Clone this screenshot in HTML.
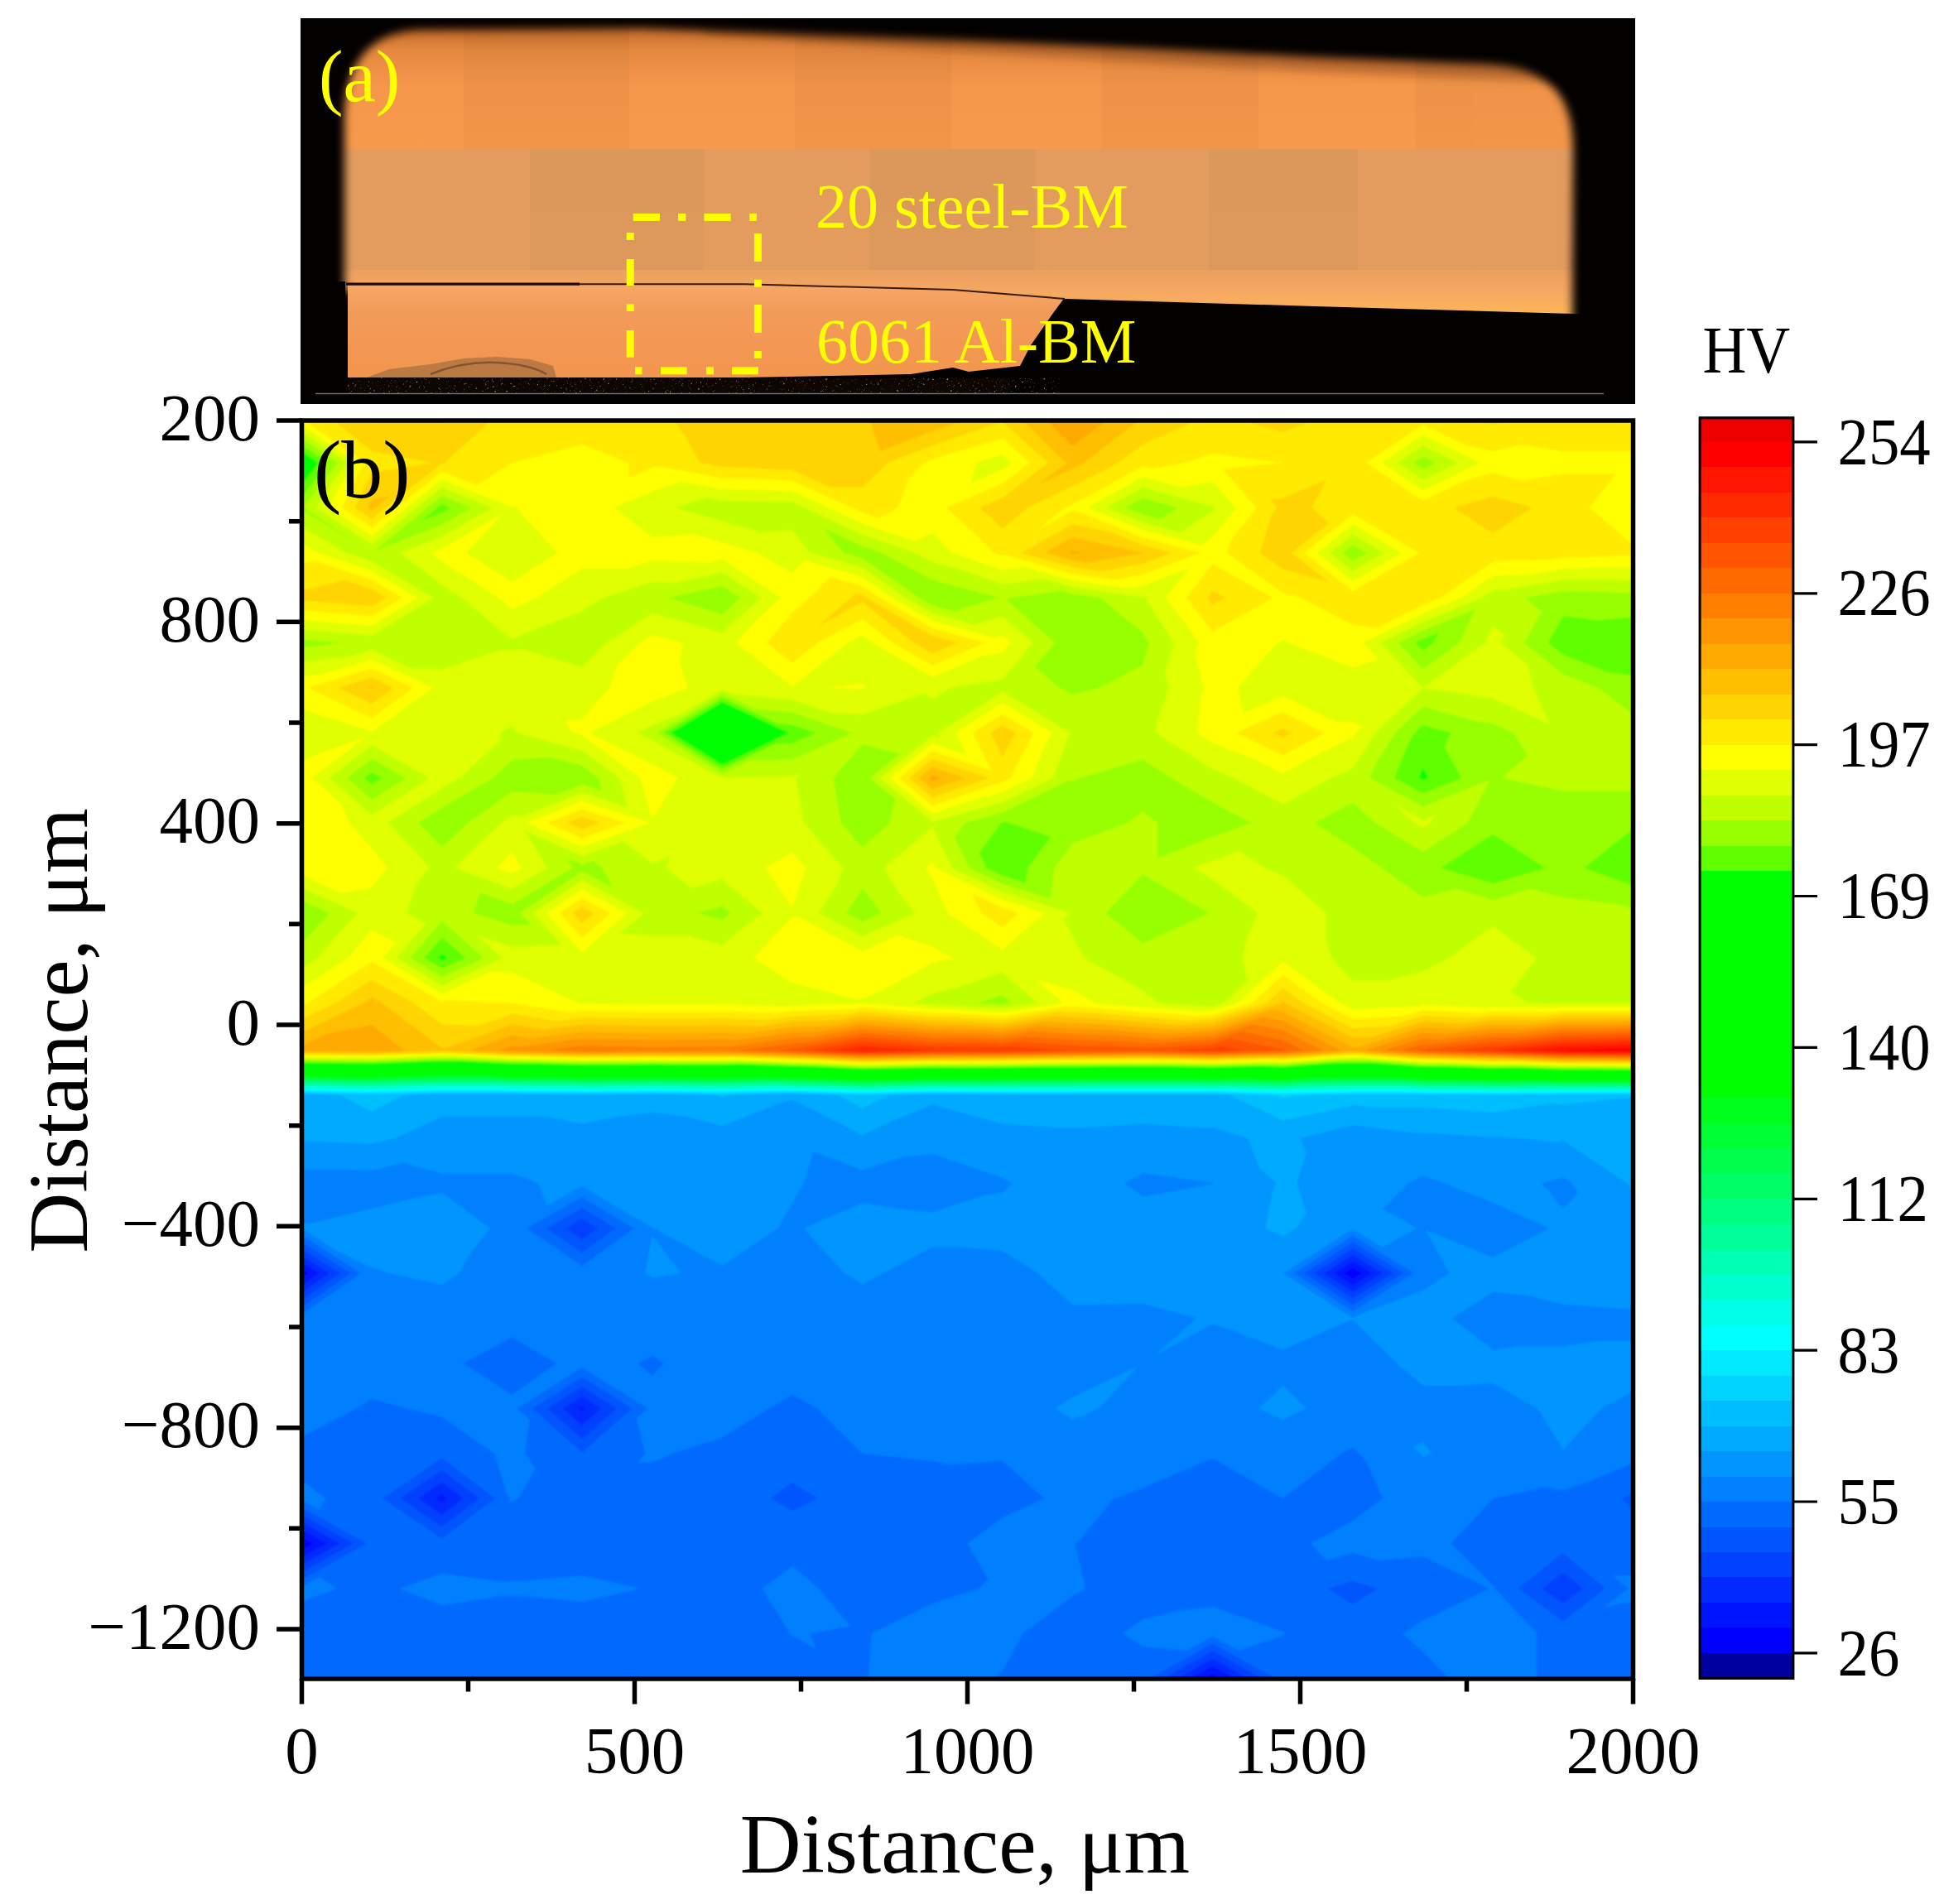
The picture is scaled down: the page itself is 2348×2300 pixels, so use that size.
<!DOCTYPE html>
<html lang="en"><head><meta charset="utf-8"><title>Figure</title><style>html,body{margin:0;padding:0;background:#fff}svg{display:block}</style></head>
<body>
<svg width="2348" height="2300" viewBox="0 0 2348 2300" font-family="'Liberation Serif', serif">
<rect width="2348" height="2300" fill="#fff"/>
<defs><clipPath id="pc"><rect x="364.5" y="508" width="1608" height="1520"/></clipPath><filter id="cb" filterUnits="userSpaceOnUse" x="350" y="490" width="1640" height="1555"><feGaussianBlur stdDeviation="1.3"/></filter><filter id="bl" filterUnits="userSpaceOnUse" x="363" y="0" width="1640" height="500"><feGaussianBlur stdDeviation="5.5"/></filter><filter id="sp" x="0" y="0" width="100%" height="100%"><feTurbulence type="fractalNoise" baseFrequency="0.35" numOctaves="2" seed="7"/><feColorMatrix type="matrix" values="0 0 0 0 0.5  0 0 0 0 0.3  0 0 0 0 0.15  5 0 0 0 -3.3"/></filter><clipPath id="ph"><rect x="363" y="22" width="1612" height="466"/></clipPath><mask id="ms" maskUnits="userSpaceOnUse" x="363" y="0" width="1640" height="500"><path d="M416,352 L416,150 C416,85 438,40 505,36 L776,34 L1151,48 L1378,58 L1587,69 L1795,77.6 C1868,81 1900,112 1900,180 L1899,390 L1587,380 L1287,370 L1151,360 L900,352 Z" fill="#fff" filter="url(#bl)"/></mask><linearGradient id="gs" gradientUnits="userSpaceOnUse" x1="0" y1="30" x2="0" y2="180"><stop offset="0" stop-color="#b86424"/><stop offset="0.2" stop-color="#e5883f"/><stop offset="0.5" stop-color="#f5974b"/><stop offset="1" stop-color="#f89a4c"/></linearGradient><linearGradient id="ga" gradientUnits="userSpaceOnUse" x1="0" y1="344" x2="0" y2="456"><stop offset="0" stop-color="#f6a768"/><stop offset="0.3" stop-color="#f29b59"/><stop offset="1" stop-color="#f2954e"/></linearGradient><linearGradient id="gl" gradientUnits="userSpaceOnUse" x1="0" y1="326" x2="0" y2="380"><stop offset="0" stop-color="#ec9f5f"/><stop offset="0.6" stop-color="#f7ab62"/><stop offset="1" stop-color="#ffb655"/></linearGradient></defs>
<g clip-path="url(#ph)">
<rect x="363" y="22" width="1612" height="466" fill="#030100"/>
<g mask="url(#ms)">
<rect x="363" y="22" width="1612" height="160" fill="url(#gs)"/>
<path d="M850,30 L1151,30 L1378,40 L1587,51 L1795,60 L1920,66 L1920,100 L1795,95 L1587,86 L1378,75 L1151,62 L850,40 Z" fill="#6a3008" opacity="0.4" filter="url(#bl)"/>
<rect x="363" y="180" width="1612" height="147" fill="#e39c5e"/>
<rect x="363" y="326" width="1612" height="70" fill="url(#gl)"/>
<g fill="#000" opacity="0.022"><rect x="560" y="22" width="200" height="158"/><rect x="960" y="22" width="190" height="158"/><rect x="1330" y="22" width="190" height="158"/><rect x="1710" y="22" width="200" height="158"/><rect x="640" y="180" width="210" height="146"/><rect x="1050" y="180" width="200" height="146"/><rect x="1460" y="180" width="180" height="146"/></g>
</g>
<path d="M1287,361 L1587,370 L1899,379 L1975,379 L1975,488 L1200,488 L1232,443 L1245,418 L1270,382 L1284,362 Z" fill="#030100"/>
<path d="M420,344 L900,344 L1151,351 L1284,361 L1270,381 L1245,417 L1232,442 L1170,449 L1151,444 L1100,452 L900,456 L420,456 Z" fill="url(#ga)"/>
<path d="M363,340 H417 V470 H363 Z" fill="#030100"/>
<path d="M443,456 L470,446 L520,440 L560,433 L600,431 L640,434 L668,442 L672,456 Z" fill="#a8703f" opacity="0.75"/>
<path d="M520,452 Q560,436 600,438 Q640,440 660,452" stroke="#6b4526" stroke-width="2.5" fill="none" opacity="0.7"/>
<rect x="420" y="457" width="800" height="17" fill="#0d0603"/>
<rect x="420" y="456" width="860" height="19" filter="url(#sp)"/>
<path d="M418,343.2 H700" stroke="#1e0c04" stroke-width="3.2" fill="none"/>
<path d="M700,343.2 H900 L1151,350 L1286,361" stroke="#3a1c0a" stroke-width="2" fill="none"/>
<path d="M381,475.5 H1937" stroke="#6e6e6e" stroke-width="1.3"/>
</g>
<g fill="#ffff00"><rect x="764.7" y="257.9" width="32.3" height="9"/><rect x="819.0" y="257.9" width="9.4" height="9"/><rect x="850.5" y="257.9" width="32.1" height="9"/><rect x="905.3" y="257.9" width="8.7" height="9"/><rect x="767.0" y="443.3" width="8.5" height="9"/><rect x="798.0" y="443.3" width="31.7" height="9"/><rect x="853.0" y="443.3" width="9.0" height="9"/><rect x="884.0" y="443.3" width="32.0" height="9"/><rect x="756.7" y="281.0" width="9" height="9.0"/><rect x="756.7" y="313.0" width="9" height="32.0"/><rect x="756.7" y="367.4" width="9" height="8.6"/><rect x="756.7" y="399.0" width="9" height="32.7"/><rect x="910.9" y="282.0" width="9" height="34.0"/><rect x="910.9" y="337.8" width="9" height="8.8"/><rect x="910.9" y="368.0" width="9" height="34.0"/><rect x="910.9" y="424.0" width="9" height="9.0"/></g>
<g fill="#ffff00" font-size="76"><text x="985" y="274.5">20 steel-BM</text><text x="986" y="438">6061 Al-BM</text><text x="385" y="122.3" font-size="88.5">(a)</text></g>
<g clip-path="url(#pc)"><g fill-rule="evenodd" filter="url(#cb)">
<rect x="360" y="500" width="1620" height="1535" fill="#0000ff"/>
<path fill="#0015ff" d="M1474.4,2027.7 1464.7,2022.4 1455.0,2027.7 1380.1,2027.7 1295.4,2027.7 1210.8,2027.7 1126.2,2027.7 1041.6,2027.7 956.9,2027.7 872.3,2027.7 787.7,2027.7 703.0,2027.7 618.4,2027.7 533.8,2027.7 449.1,2027.7 364.5,2027.7 364.5,1973.3 364.5,1918.9 364.5,1871.7 377.5,1864.5 364.5,1857.3 364.5,1810.1 364.5,1755.7 364.5,1701.3 364.5,1646.9 364.5,1592.5 364.5,1543.3 372.0,1538.1 364.5,1533.4 364.5,1483.7 364.5,1429.3 364.5,1374.9 364.5,1323.0 364.5,1269.1 364.5,1211.7 364.5,1157.3 364.5,1102.9 364.5,1048.5 364.5,994.1 364.5,939.7 364.5,885.3 364.5,830.9 364.5,776.5 364.5,722.1 364.5,667.7 364.5,613.3 364.5,558.9 364.5,504.5 449.1,504.5 533.8,504.5 618.4,504.5 703.0,504.5 787.7,504.5 872.3,504.5 956.9,504.5 1041.6,504.5 1126.2,504.5 1210.8,504.5 1295.4,504.5 1380.1,504.5 1464.7,504.5 1549.3,504.5 1634.0,504.5 1718.6,504.5 1803.2,504.5 1887.9,504.5 1972.5,504.5 1972.5,558.9 1972.5,613.3 1972.5,667.7 1972.5,722.1 1972.5,776.5 1972.5,830.9 1972.5,885.3 1972.5,939.7 1972.5,994.1 1972.5,1048.5 1972.5,1102.9 1972.5,1157.3 1972.5,1211.7 1972.5,1269.1 1972.5,1323.0 1972.5,1374.9 1972.5,1429.3 1972.5,1483.7 1972.5,1538.1 1972.5,1592.5 1972.5,1646.9 1972.5,1701.3 1972.5,1755.7 1972.5,1810.1 1972.5,1864.5 1972.5,1918.9 1972.5,1973.3 1972.5,2027.7 1887.9,2027.7 1803.2,2027.7 1718.6,2027.7 1634.0,2027.7 1549.3,2027.7ZM1624.2,1538.1 1634.0,1544.4 1644.0,1538.1 1634.0,1531.9Z"/>
<path fill="#002aff" d="M1491.2,2027.7 1464.7,2013.1 1438.3,2027.7 1380.1,2027.7 1295.4,2027.7 1210.8,2027.7 1126.2,2027.7 1041.6,2027.7 956.9,2027.7 872.3,2027.7 787.7,2027.7 703.0,2027.7 618.4,2027.7 533.8,2027.7 449.1,2027.7 364.5,2027.7 364.5,1973.3 364.5,1918.9 364.5,1880.7 393.9,1864.5 364.5,1848.3 364.5,1810.1 364.5,1755.7 364.5,1701.3 364.5,1646.9 364.5,1592.5 364.5,1552.2 385.0,1538.1 364.5,1525.1 364.5,1483.7 364.5,1429.3 364.5,1374.9 364.5,1323.0 364.5,1269.1 364.5,1211.7 364.5,1157.3 364.5,1102.9 364.5,1048.5 364.5,994.1 364.5,939.7 364.5,885.3 364.5,830.9 364.5,776.5 364.5,722.1 364.5,667.7 364.5,613.3 364.5,558.9 364.5,504.5 449.1,504.5 533.8,504.5 618.4,504.5 703.0,504.5 787.7,504.5 872.3,504.5 956.9,504.5 1041.6,504.5 1126.2,504.5 1210.8,504.5 1295.4,504.5 1380.1,504.5 1464.7,504.5 1549.3,504.5 1634.0,504.5 1718.6,504.5 1803.2,504.5 1887.9,504.5 1972.5,504.5 1972.5,558.9 1972.5,613.3 1972.5,667.7 1972.5,722.1 1972.5,776.5 1972.5,830.9 1972.5,885.3 1972.5,939.7 1972.5,994.1 1972.5,1048.5 1972.5,1102.9 1972.5,1157.3 1972.5,1211.7 1972.5,1269.1 1972.5,1323.0 1972.5,1374.9 1972.5,1429.3 1972.5,1483.7 1972.5,1538.1 1972.5,1592.5 1972.5,1646.9 1972.5,1701.3 1972.5,1755.7 1972.5,1810.1 1972.5,1864.5 1972.5,1918.9 1972.5,1973.3 1972.5,2027.7 1887.9,2027.7 1803.2,2027.7 1718.6,2027.7 1634.0,2027.7 1549.3,2027.7ZM1611.8,1538.1 1634.0,1552.4 1656.8,1538.1 1634.0,1524.0ZM699.1,1701.3 703.0,1704.8 707.0,1701.3 703.0,1698.8ZM526.9,1810.1 533.8,1814.8 539.9,1810.1 533.8,1805.4Z"/>
<path fill="#0040ff" d="M1507.9,2027.7 1464.7,2003.9 1421.5,2027.7 1380.1,2027.7 1295.4,2027.7 1210.8,2027.7 1126.2,2027.7 1041.6,2027.7 956.9,2027.7 872.3,2027.7 787.7,2027.7 703.0,2027.7 618.4,2027.7 533.8,2027.7 449.1,2027.7 364.5,2027.7 364.5,1973.3 364.5,1918.9 364.5,1889.8 410.3,1864.5 364.5,1839.2 364.5,1810.1 364.5,1755.7 364.5,1701.3 364.5,1646.9 364.5,1592.5 364.5,1561.1 397.9,1538.1 364.5,1516.9 364.5,1483.7 364.5,1429.3 364.5,1374.9 364.5,1323.0 364.5,1269.1 364.5,1211.7 364.5,1157.3 364.5,1102.9 364.5,1048.5 364.5,994.1 364.5,939.7 364.5,885.3 364.5,830.9 364.5,776.5 364.5,722.1 364.5,667.7 364.5,613.3 364.5,558.9 364.5,504.5 449.1,504.5 533.8,504.5 618.4,504.5 703.0,504.5 787.7,504.5 872.3,504.5 956.9,504.5 1041.6,504.5 1126.2,504.5 1210.8,504.5 1295.4,504.5 1380.1,504.5 1464.7,504.5 1549.3,504.5 1634.0,504.5 1718.6,504.5 1803.2,504.5 1887.9,504.5 1972.5,504.5 1972.5,558.9 1972.5,613.3 1972.5,667.7 1972.5,722.1 1972.5,776.5 1972.5,830.9 1972.5,885.3 1972.5,939.7 1972.5,994.1 1972.5,1048.5 1972.5,1102.9 1972.5,1157.3 1972.5,1211.7 1972.5,1269.1 1972.5,1323.0 1972.5,1374.9 1972.5,1429.3 1972.5,1483.7 1972.5,1538.1 1972.5,1592.5 1972.5,1646.9 1972.5,1701.3 1972.5,1755.7 1972.5,1810.1 1972.5,1864.5 1972.5,1918.9 1972.5,1973.3 1972.5,2027.7 1887.9,2027.7 1803.2,2027.7 1718.6,2027.7 1634.0,2027.7 1549.3,2027.7ZM1599.5,1538.1 1634.0,1560.4 1669.6,1538.1 1634.0,1516.1ZM680.4,1701.3 703.0,1721.5 725.9,1701.3 703.0,1687.1ZM505.2,1810.1 533.8,1829.5 559.3,1810.1 533.8,1790.7Z"/>
<path fill="#0055ff" d="M1524.7,2027.7 1464.7,1994.7 1404.8,2027.7 1380.1,2027.7 1295.4,2027.7 1210.8,2027.7 1126.2,2027.7 1041.6,2027.7 956.9,2027.7 872.3,2027.7 787.7,2027.7 703.0,2027.7 618.4,2027.7 533.8,2027.7 449.1,2027.7 364.5,2027.7 364.5,1973.3 364.5,1918.9 364.5,1898.9 426.7,1864.5 364.5,1830.1 364.5,1810.1 364.5,1755.7 364.5,1701.3 364.5,1646.9 364.5,1592.5 364.5,1570.0 410.9,1538.1 364.5,1508.7 364.5,1483.7 364.5,1429.3 364.5,1374.9 364.5,1323.0 364.5,1269.1 364.5,1211.7 364.5,1157.3 364.5,1102.9 364.5,1048.5 364.5,994.1 364.5,939.7 364.5,885.3 364.5,830.9 364.5,776.5 364.5,722.1 364.5,667.7 364.5,613.3 364.5,558.9 364.5,504.5 449.1,504.5 533.8,504.5 618.4,504.5 703.0,504.5 787.7,504.5 872.3,504.5 956.9,504.5 1041.6,504.5 1126.2,504.5 1210.8,504.5 1295.4,504.5 1380.1,504.5 1464.7,504.5 1549.3,504.5 1634.0,504.5 1718.6,504.5 1803.2,504.5 1887.9,504.5 1972.5,504.5 1972.5,558.9 1972.5,613.3 1972.5,667.7 1972.5,722.1 1972.5,776.5 1972.5,830.9 1972.5,885.3 1972.5,939.7 1972.5,994.1 1972.5,1048.5 1972.5,1102.9 1972.5,1157.3 1972.5,1211.7 1972.5,1269.1 1972.5,1323.0 1972.5,1374.9 1972.5,1429.3 1972.5,1483.7 1972.5,1538.1 1972.5,1592.5 1972.5,1646.9 1972.5,1701.3 1972.5,1755.7 1972.5,1810.1 1972.5,1864.5 1972.5,1918.9 1972.5,1973.3 1972.5,2027.7 1887.9,2027.7 1803.2,2027.7 1718.6,2027.7 1634.0,2027.7 1549.3,2027.7ZM683.1,1483.7 703.0,1497.3 721.6,1483.7 703.0,1472.5ZM1587.1,1538.1 1634.0,1568.4 1682.3,1538.1 1634.0,1508.2ZM661.7,1701.3 703.0,1738.2 744.7,1701.3 703.0,1675.3ZM483.4,1810.1 533.8,1844.3 578.7,1810.1 533.8,1775.9ZM1863.0,1918.9 1887.9,1937.0 1911.2,1918.9 1887.9,1899.1Z"/>
<path fill="#006aff" d="M1972.5,1804.3 1958.4,1810.1 1972.5,1823.7 1972.5,1864.5 1972.5,1918.9 1972.5,1973.3 1972.5,2027.7 1887.9,2027.7 1803.2,2027.7 1718.6,2027.7 1634.0,2027.7 1549.3,2027.7 1541.4,2027.7 1464.7,1985.4 1388.0,2027.7 1380.1,2027.7 1295.4,2027.7 1210.8,2027.7 1126.2,2027.7 1041.6,2027.7 956.9,2027.7 872.3,2027.7 787.7,2027.7 703.0,2027.7 618.4,2027.7 533.8,2027.7 449.1,2027.7 364.5,2027.7 364.5,1973.3 364.5,1918.9 364.5,1907.9 443.1,1864.5 364.5,1821.1 364.5,1810.1 364.5,1755.7 364.5,1701.3 364.5,1646.9 364.5,1592.5 364.5,1578.9 423.9,1538.1 364.5,1500.5 364.5,1483.7 364.5,1429.3 364.5,1374.9 364.5,1323.0 364.5,1269.1 364.5,1211.7 364.5,1157.3 364.5,1102.9 364.5,1048.5 364.5,994.1 364.5,939.7 364.5,885.3 364.5,830.9 364.5,776.5 364.5,722.1 364.5,667.7 364.5,613.3 364.5,558.9 364.5,504.5 449.1,504.5 533.8,504.5 618.4,504.5 703.0,504.5 787.7,504.5 872.3,504.5 956.9,504.5 1041.6,504.5 1126.2,504.5 1210.8,504.5 1295.4,504.5 1380.1,504.5 1464.7,504.5 1549.3,504.5 1634.0,504.5 1718.6,504.5 1803.2,504.5 1887.9,504.5 1972.5,504.5 1972.5,558.9 1972.5,613.3 1972.5,667.7 1972.5,722.1 1972.5,776.5 1972.5,830.9 1972.5,885.3 1972.5,939.7 1972.5,994.1 1972.5,1048.5 1972.5,1102.9 1972.5,1157.3 1972.5,1211.7 1972.5,1269.1 1972.5,1323.0 1972.5,1374.9 1972.5,1429.3 1972.5,1483.7 1972.5,1538.1 1972.5,1592.5 1972.5,1646.9 1972.5,1701.3 1972.5,1755.7ZM659.5,1483.7 703.0,1513.4 743.7,1483.7 703.0,1459.3ZM1574.7,1538.1 1634.0,1576.4 1695.1,1538.1 1634.0,1500.4ZM643.0,1701.3 703.0,1754.8 763.6,1701.3 703.0,1663.6ZM461.7,1810.1 533.8,1859.1 598.2,1810.1 533.8,1761.1ZM930.5,1810.1 956.9,1825.2 987.1,1810.1 956.9,1790.7ZM1603.7,1918.9 1634.0,1938.3 1664.2,1918.9 1634.0,1909.8ZM1833.4,1918.9 1887.9,1958.6 1938.9,1918.9 1887.9,1875.6Z"/>
<path fill="#0080ff" d="M1972.5,1767.4 1921.7,1788.3 1887.9,1800.6 1866.7,1796.5 1803.2,1810.1 1752.5,1864.5 1803.2,1915.5 1806.5,1916.8 1803.9,1918.9 1808.5,1922.3 1856.1,1973.3 1856.1,1993.7 1856.1,2027.7 1803.2,2027.7 1750.3,2027.7 1718.6,1995.1 1694.4,1973.3 1718.6,1957.8 1800.0,1918.9 1718.6,1880.0 1665.7,1884.9 1634.0,1875.4 1602.2,1884.9 1583.2,1864.5 1634.0,1837.3 1670.2,1810.1 1650.9,1766.6 1641.7,1755.7 1634.0,1748.5 1619.9,1755.7 1549.3,1810.1 1464.7,1761.5 1439.3,1772.0 1380.1,1797.4 1345.2,1810.1 1306.0,1857.7 1298.7,1864.5 1299.1,1866.9 1311.1,1918.9 1295.4,1928.0 1235.0,1973.3 1210.8,2018.6 1203.1,2027.7 1126.2,2027.7 1049.2,2027.7 1049.2,2022.8 1052.6,1973.3 1126.2,1937.0 1182.6,1918.9 1193.9,1908.0 1168.5,1864.5 1210.8,1833.4 1261.6,1810.1 1210.8,1764.8 1147.3,1769.3 1126.2,1764.8 1041.6,1755.7 987.0,1701.3 956.9,1684.7 928.7,1701.3 872.3,1736.5 812.5,1755.7 787.7,1766.6 770.7,1766.6 779.2,1755.7 768.7,1713.5 782.5,1701.3 703.0,1651.8 624.3,1701.3 639.6,1714.9 633.8,1755.7 646.6,1773.8 626.1,1810.1 618.4,1814.1 613.1,1813.5 617.6,1810.1 613.1,1806.7 597.2,1755.7 533.8,1711.6 491.4,1701.3 449.1,1689.4 430.6,1701.3 364.5,1735.3 364.5,1701.3 364.5,1646.9 364.5,1592.5 364.5,1587.8 436.8,1538.1 364.5,1492.3 364.5,1483.7 364.5,1429.3 364.5,1374.9 364.5,1323.0 364.5,1269.1 364.5,1211.7 364.5,1157.3 364.5,1102.9 364.5,1048.5 364.5,994.1 364.5,939.7 364.5,885.3 364.5,830.9 364.5,776.5 364.5,722.1 364.5,667.7 364.5,613.3 364.5,558.9 364.5,504.5 449.1,504.5 533.8,504.5 618.4,504.5 703.0,504.5 787.7,504.5 872.3,504.5 956.9,504.5 1041.6,504.5 1126.2,504.5 1210.8,504.5 1295.4,504.5 1380.1,504.5 1464.7,504.5 1549.3,504.5 1634.0,504.5 1718.6,504.5 1803.2,504.5 1887.9,504.5 1972.5,504.5 1972.5,558.9 1972.5,613.3 1972.5,667.7 1972.5,722.1 1972.5,776.5 1972.5,830.9 1972.5,885.3 1972.5,939.7 1972.5,994.1 1972.5,1048.5 1972.5,1102.9 1972.5,1157.3 1972.5,1211.7 1972.5,1269.1 1972.5,1323.0 1972.5,1374.9 1972.5,1429.3 1972.5,1483.7 1972.5,1538.1 1972.5,1592.5 1972.5,1646.9 1972.5,1701.3 1972.5,1755.7ZM1972.5,1934.4 1938.6,1940.7 1966.7,1918.9 1948.3,1903.4 1972.5,1903.4 1972.5,1918.9ZM364.5,1917.0 385.7,1905.3 406.8,1918.9 364.5,1934.4 364.5,1918.9ZM364.5,1788.3 392.7,1810.1 385.7,1823.7 364.5,1812.0 364.5,1810.1ZM635.8,1483.7 703.0,1529.6 765.8,1483.7 703.0,1446.0ZM1562.4,1538.1 1634.0,1584.4 1707.9,1538.1 1634.0,1492.5ZM559.2,1646.9 618.4,1685.0 672.3,1646.9 618.4,1615.2ZM770.7,1646.9 787.7,1662.0 801.8,1646.9 787.7,1637.8ZM533.8,1900.8 606.3,1911.1 618.4,1909.8 632.5,1909.8 703.0,1903.4 773.6,1918.9 703.0,1934.4 632.5,1928.0 618.4,1928.0 604.3,1928.0 533.8,1939.3 483.0,1918.9ZM956.9,1891.7 988.7,1918.9 1027.4,1964.2 978.1,1973.3 985.1,1991.4 956.9,1975.4 953.7,1973.3 952.9,1970.7 920.7,1918.9ZM1380.1,1956.3 1422.4,1946.1 1464.7,1940.7 1541.6,1968.4 1549.3,1971.2 1552.6,1973.3 1549.3,1975.4 1496.4,1993.7 1464.7,1976.2 1433.0,1993.7 1380.1,1988.8 1355.9,1973.3Z"/>
<path fill="#0095ff" d="M1972.5,1580.8 1954.4,1580.8 1887.9,1575.5 1845.6,1565.3 1803.2,1560.8 1753.9,1592.5 1803.2,1630.6 1835.0,1626.5 1887.9,1626.5 1930.2,1619.7 1972.5,1619.7 1972.5,1646.9 1972.5,1680.9 1934.4,1701.3 1887.9,1751.2 1856.8,1701.3 1803.2,1670.9 1760.9,1674.1 1718.6,1674.1 1686.9,1646.9 1634.0,1594.6 1628.7,1595.9 1549.3,1630.6 1485.9,1606.1 1464.7,1599.3 1394.2,1637.8 1445.5,1592.5 1380.1,1574.7 1320.8,1576.2 1295.4,1576.2 1253.1,1538.1 1210.8,1510.9 1161.4,1506.4 1126.2,1506.4 1066.9,1538.1 1041.6,1551.7 1020.4,1538.1 988.7,1504.1 971.0,1483.7 1041.6,1453.1 1090.9,1461.0 1126.2,1464.3 1188.4,1443.7 1210.8,1440.4 1222.7,1429.3 1210.8,1422.7 1188.4,1414.9 1126.2,1394.3 1090.9,1397.6 1041.6,1413.4 982.3,1391.2 971.0,1429.3 956.9,1453.1 939.6,1483.7 872.3,1529.0 790.0,1483.7 787.7,1482.5 784.4,1481.6 703.0,1432.8 660.7,1456.5 650.1,1429.3 618.4,1417.6 551.9,1417.6 533.8,1417.6 487.2,1404.8 449.1,1414.0 423.7,1413.0 364.5,1413.0 364.5,1374.9 364.5,1323.0 364.5,1269.1 364.5,1211.7 364.5,1157.3 364.5,1102.9 364.5,1048.5 364.5,994.1 364.5,939.7 364.5,885.3 364.5,830.9 364.5,776.5 364.5,722.1 364.5,667.7 364.5,613.3 364.5,558.9 364.5,504.5 449.1,504.5 533.8,504.5 618.4,504.5 703.0,504.5 787.7,504.5 872.3,504.5 956.9,504.5 1041.6,504.5 1126.2,504.5 1210.8,504.5 1295.4,504.5 1380.1,504.5 1464.7,504.5 1549.3,504.5 1634.0,504.5 1718.6,504.5 1803.2,504.5 1887.9,504.5 1972.5,504.5 1972.5,558.9 1972.5,613.3 1972.5,667.7 1972.5,722.1 1972.5,776.5 1972.5,830.9 1972.5,885.3 1972.5,939.7 1972.5,994.1 1972.5,1048.5 1972.5,1102.9 1972.5,1157.3 1972.5,1211.7 1972.5,1269.1 1972.5,1323.0 1972.5,1374.9 1972.5,1429.3 1972.5,1483.7 1972.5,1538.1ZM364.5,1478.3 373.0,1478.3 449.1,1459.9 508.4,1445.6 533.8,1441.0 591.9,1483.7 565.5,1517.7 554.9,1538.1 533.8,1551.7 470.3,1538.1 449.1,1531.3 406.8,1510.9 364.5,1484.1 364.5,1483.7ZM1358.3,1429.3 1380.1,1445.4 1462.9,1430.5 1464.7,1430.8 1465.5,1429.3 1464.7,1428.6 1463.4,1428.5 1380.1,1417.0ZM1700.5,1429.3 1669.8,1460.7 1711.6,1483.7 1669.8,1506.7 1634.0,1484.6 1550.0,1538.1 1634.0,1592.4 1639.3,1589.1 1718.6,1558.5 1750.3,1538.1 1721.9,1485.8 1803.2,1518.7 1871.2,1483.7 1803.2,1453.1 1744.0,1429.3 1718.6,1420.2ZM1862.5,1429.3 1887.9,1460.7 1906.0,1441.0 1898.4,1429.3 1887.9,1422.3ZM787.7,1492.8 822.9,1538.1 787.7,1543.5 779.2,1538.1ZM1295.4,1687.7 1374.8,1650.3 1327.2,1701.3 1295.4,1714.9 1274.3,1701.3ZM1549.3,1674.1 1578.2,1701.3 1549.3,1714.9 1520.5,1701.3ZM1706.2,1747.7 1718.6,1742.1 1729.2,1755.7 1718.6,1760.2 1714.8,1755.7Z"/>
<path fill="#00aaff" d="M1972.5,1440.2 1965.4,1429.3 1887.9,1377.7 1880.2,1379.8 1837.1,1374.9 1806.0,1373.2 1803.2,1373.6 1800.9,1373.5 1718.6,1368.4 1708.0,1368.4 1634.0,1359.3 1570.5,1374.9 1577.6,1393.0 1566.3,1429.3 1577.6,1465.6 1565.6,1483.7 1549.3,1493.6 1528.2,1483.7 1537.3,1437.1 1541.4,1429.3 1521.1,1411.2 1507.0,1374.9 1464.7,1361.9 1443.6,1361.9 1380.1,1357.6 1316.6,1361.9 1295.4,1361.9 1274.3,1361.9 1210.8,1357.6 1160.0,1343.8 1126.2,1334.5 1069.8,1357.6 1041.6,1371.4 999.2,1349.0 956.9,1328.8 940.0,1333.4 872.3,1360.1 830.0,1349.0 787.7,1343.8 745.3,1349.0 703.0,1357.6 660.7,1349.0 618.4,1349.0 576.1,1349.0 533.8,1349.0 477.3,1374.9 449.1,1381.7 370.1,1378.5 364.5,1378.5 364.5,1374.9 364.5,1323.0 364.5,1269.1 364.5,1211.7 364.5,1157.3 364.5,1102.9 364.5,1048.5 364.5,994.1 364.5,939.7 364.5,885.3 364.5,830.9 364.5,776.5 364.5,722.1 364.5,667.7 364.5,613.3 364.5,558.9 364.5,504.5 449.1,504.5 533.8,504.5 618.4,504.5 703.0,504.5 787.7,504.5 872.3,504.5 956.9,504.5 1041.6,504.5 1126.2,504.5 1210.8,504.5 1295.4,504.5 1380.1,504.5 1464.7,504.5 1549.3,504.5 1634.0,504.5 1718.6,504.5 1803.2,504.5 1887.9,504.5 1972.5,504.5 1972.5,558.9 1972.5,613.3 1972.5,667.7 1972.5,722.1 1972.5,776.5 1972.5,830.9 1972.5,885.3 1972.5,939.7 1972.5,994.1 1972.5,1048.5 1972.5,1102.9 1972.5,1157.3 1972.5,1211.7 1972.5,1269.1 1972.5,1323.0 1972.5,1374.9 1972.5,1429.3Z"/>
<path fill="#00bfff" d="M1972.5,1325.9 1968.0,1325.8 1887.9,1334.4 1870.8,1333.5 1803.2,1343.6 1745.1,1339.2 1718.6,1337.6 1657.8,1337.6 1634.0,1334.7 1602.2,1342.5 1549.3,1353.3 1485.9,1323.0 1465.6,1322.4 1464.7,1322.4 1463.8,1322.4 1380.1,1322.4 1296.3,1322.4 1295.4,1322.4 1211.7,1322.4 1210.8,1322.5 1210.0,1322.5 1126.2,1321.8 1073.3,1323.0 1041.6,1338.6 1012.3,1323.0 956.9,1321.6 954.7,1321.6 877.0,1323.0 872.3,1324.9 865.2,1323.0 787.7,1322.1 703.4,1322.7 703.0,1322.7 702.6,1322.7 618.4,1322.0 616.7,1321.9 533.8,1321.9 487.2,1323.0 449.1,1342.5 411.0,1323.0 364.5,1322.0 364.5,1269.1 364.5,1211.7 364.5,1157.3 364.5,1102.9 364.5,1048.5 364.5,994.1 364.5,939.7 364.5,885.3 364.5,830.9 364.5,776.5 364.5,722.1 364.5,667.7 364.5,613.3 364.5,558.9 364.5,504.5 449.1,504.5 533.8,504.5 618.4,504.5 703.0,504.5 787.7,504.5 872.3,504.5 956.9,504.5 1041.6,504.5 1126.2,504.5 1210.8,504.5 1295.4,504.5 1380.1,504.5 1464.7,504.5 1549.3,504.5 1634.0,504.5 1718.6,504.5 1803.2,504.5 1887.9,504.5 1972.5,504.5 1972.5,558.9 1972.5,613.3 1972.5,667.7 1972.5,722.1 1972.5,776.5 1972.5,830.9 1972.5,885.3 1972.5,939.7 1972.5,994.1 1972.5,1048.5 1972.5,1102.9 1972.5,1157.3 1972.5,1211.7 1972.5,1269.1 1972.5,1323.0Z"/>
<path fill="#00d4ff" d="M1972.5,1321.7 1970.4,1321.7 1887.9,1322.0 1886.1,1321.9 1803.2,1322.5 1802.4,1322.5 1718.6,1322.2 1717.1,1322.1 1634.0,1322.1 1563.4,1323.0 1549.3,1325.9 1543.3,1323.0 1468.1,1320.9 1464.7,1321.0 1461.4,1320.9 1380.1,1320.9 1298.8,1320.9 1295.4,1320.9 1214.1,1320.9 1210.8,1321.0 1207.6,1321.0 1126.2,1320.4 1042.8,1322.2 1041.6,1322.2 1040.2,1322.2 956.9,1320.1 952.1,1319.9 872.3,1321.4 869.8,1321.4 787.7,1320.4 706.0,1321.1 703.0,1321.1 699.9,1321.0 618.4,1320.3 613.9,1320.1 533.8,1320.1 450.7,1322.0 449.1,1322.1 447.6,1322.1 364.5,1320.2 364.5,1269.1 364.5,1211.7 364.5,1157.3 364.5,1102.9 364.5,1048.5 364.5,994.1 364.5,939.7 364.5,885.3 364.5,830.9 364.5,776.5 364.5,722.1 364.5,667.7 364.5,613.3 364.5,558.9 364.5,504.5 449.1,504.5 533.8,504.5 618.4,504.5 703.0,504.5 787.7,504.5 872.3,504.5 956.9,504.5 1041.6,504.5 1126.2,504.5 1210.8,504.5 1295.4,504.5 1380.1,504.5 1464.7,504.5 1549.3,504.5 1634.0,504.5 1718.6,504.5 1803.2,504.5 1887.9,504.5 1972.5,504.5 1972.5,558.9 1972.5,613.3 1972.5,667.7 1972.5,722.1 1972.5,776.5 1972.5,830.9 1972.5,885.3 1972.5,939.7 1972.5,994.1 1972.5,1048.5 1972.5,1102.9 1972.5,1157.3 1972.5,1211.7 1972.5,1269.1Z"/>
<path fill="#00eaff" d="M1972.5,1320.3 1968.2,1320.2 1887.9,1320.5 1883.8,1320.4 1803.2,1321.0 1799.9,1320.9 1718.6,1320.6 1714.3,1320.2 1634.0,1320.2 1551.9,1321.4 1549.3,1321.5 1470.5,1319.3 1464.7,1319.5 1459.0,1319.3 1380.1,1319.3 1301.2,1319.3 1295.4,1319.4 1216.5,1319.4 1210.8,1319.5 1205.3,1319.5 1126.2,1318.9 1045.2,1320.7 1041.6,1320.8 1037.7,1320.6 956.9,1318.6 949.6,1318.3 872.3,1319.8 867.2,1319.8 787.7,1318.8 708.6,1319.4 703.0,1319.5 697.2,1319.3 618.4,1318.7 611.0,1318.3 533.8,1318.3 453.6,1320.1 449.1,1320.3 444.8,1320.2 364.5,1318.5 364.5,1269.1 364.5,1211.7 364.5,1157.3 364.5,1102.9 364.5,1048.5 364.5,994.1 364.5,939.7 364.5,885.3 364.5,830.9 364.5,776.5 364.5,722.1 364.5,667.7 364.5,613.3 364.5,558.9 364.5,504.5 449.1,504.5 533.8,504.5 618.4,504.5 703.0,504.5 787.7,504.5 872.3,504.5 956.9,504.5 1041.6,504.5 1126.2,504.5 1210.8,504.5 1295.4,504.5 1380.1,504.5 1464.7,504.5 1549.3,504.5 1634.0,504.5 1718.6,504.5 1803.2,504.5 1887.9,504.5 1972.5,504.5 1972.5,558.9 1972.5,613.3 1972.5,667.7 1972.5,722.1 1972.5,776.5 1972.5,830.9 1972.5,885.3 1972.5,939.7 1972.5,994.1 1972.5,1048.5 1972.5,1102.9 1972.5,1157.3 1972.5,1211.7 1972.5,1269.1Z"/>
<path fill="#00ffff" d="M1972.5,1318.9 1966.0,1318.8 1887.9,1319.1 1881.4,1318.9 1803.2,1319.5 1797.4,1319.3 1718.6,1319.0 1711.5,1318.4 1634.0,1318.4 1554.8,1319.5 1549.3,1319.9 1473.0,1317.7 1464.7,1318.0 1456.6,1317.8 1380.1,1317.8 1303.6,1317.8 1295.4,1317.9 1218.9,1317.9 1210.8,1318.0 1203.0,1318.0 1126.2,1317.5 1047.6,1319.2 1041.6,1319.3 1035.2,1319.0 956.9,1317.0 947.1,1316.7 872.3,1318.1 864.6,1318.1 787.7,1317.2 711.2,1317.8 703.0,1317.8 694.6,1317.6 618.4,1317.0 608.2,1316.5 533.8,1316.5 456.6,1318.2 449.1,1318.5 442.0,1318.4 364.5,1316.8 364.5,1269.1 364.5,1211.7 364.5,1157.3 364.5,1102.9 364.5,1048.5 364.5,994.1 364.5,939.7 364.5,885.3 364.5,830.9 364.5,776.5 364.5,722.1 364.5,667.7 364.5,613.3 364.5,558.9 364.5,504.5 449.1,504.5 533.8,504.5 618.4,504.5 703.0,504.5 787.7,504.5 872.3,504.5 956.9,504.5 1041.6,504.5 1126.2,504.5 1210.8,504.5 1295.4,504.5 1380.1,504.5 1464.7,504.5 1549.3,504.5 1634.0,504.5 1718.6,504.5 1803.2,504.5 1887.9,504.5 1972.5,504.5 1972.5,558.9 1972.5,613.3 1972.5,667.7 1972.5,722.1 1972.5,776.5 1972.5,830.9 1972.5,885.3 1972.5,939.7 1972.5,994.1 1972.5,1048.5 1972.5,1102.9 1972.5,1157.3 1972.5,1211.7 1972.5,1269.1Z"/>
<path fill="#00ffe6" d="M1972.5,1317.5 1963.7,1317.4 1887.9,1317.7 1879.0,1317.4 1803.2,1317.9 1794.9,1317.7 1718.6,1317.4 1708.6,1316.6 1634.0,1316.6 1557.7,1317.7 1549.3,1318.3 1475.4,1316.2 1464.7,1316.5 1454.1,1316.3 1380.1,1316.3 1306.0,1316.3 1295.4,1316.3 1221.3,1316.3 1210.8,1316.5 1200.7,1316.5 1126.2,1316.0 1049.9,1317.7 1041.6,1317.8 1032.7,1317.4 956.9,1315.5 944.5,1315.1 872.3,1316.5 862.0,1316.4 787.7,1315.5 713.8,1316.1 703.0,1316.2 691.9,1315.9 618.4,1315.3 605.3,1314.7 533.8,1314.7 459.6,1316.4 449.1,1316.7 439.1,1316.6 364.5,1315.0 364.5,1269.1 364.5,1211.7 364.5,1157.3 364.5,1102.9 364.5,1048.5 364.5,994.1 364.5,939.7 364.5,885.3 364.5,830.9 364.5,776.5 364.5,722.1 364.5,667.7 364.5,613.3 364.5,558.9 364.5,504.5 449.1,504.5 533.8,504.5 618.4,504.5 703.0,504.5 787.7,504.5 872.3,504.5 956.9,504.5 1041.6,504.5 1126.2,504.5 1210.8,504.5 1295.4,504.5 1380.1,504.5 1464.7,504.5 1549.3,504.5 1634.0,504.5 1718.6,504.5 1803.2,504.5 1887.9,504.5 1972.5,504.5 1972.5,558.9 1972.5,613.3 1972.5,667.7 1972.5,722.1 1972.5,776.5 1972.5,830.9 1972.5,885.3 1972.5,939.7 1972.5,994.1 1972.5,1048.5 1972.5,1102.9 1972.5,1157.3 1972.5,1211.7 1972.5,1269.1Z"/>
<path fill="#00ffcc" d="M1972.5,1316.1 1961.5,1316.0 1887.9,1316.3 1876.7,1315.9 1803.2,1316.4 1792.3,1316.1 1718.6,1315.8 1705.8,1314.8 1634.0,1314.8 1560.6,1315.8 1549.3,1316.6 1477.9,1314.6 1464.7,1315.0 1451.7,1314.7 1380.1,1314.7 1308.4,1314.7 1295.4,1314.8 1223.7,1314.8 1210.8,1315.0 1198.3,1315.1 1126.2,1314.5 1052.3,1316.1 1041.6,1316.3 1030.3,1315.8 956.9,1314.0 942.0,1313.5 872.3,1314.8 859.4,1314.8 787.7,1313.9 716.4,1314.5 703.0,1314.5 689.2,1314.2 618.4,1313.6 602.5,1312.9 533.8,1312.9 462.5,1314.5 449.1,1315.0 436.3,1314.8 364.5,1313.3 364.5,1269.1 364.5,1211.7 364.5,1157.3 364.5,1102.9 364.5,1048.5 364.5,994.1 364.5,939.7 364.5,885.3 364.5,830.9 364.5,776.5 364.5,722.1 364.5,667.7 364.5,613.3 364.5,558.9 364.5,504.5 449.1,504.5 533.8,504.5 618.4,504.5 703.0,504.5 787.7,504.5 872.3,504.5 956.9,504.5 1041.6,504.5 1126.2,504.5 1210.8,504.5 1295.4,504.5 1380.1,504.5 1464.7,504.5 1549.3,504.5 1634.0,504.5 1718.6,504.5 1803.2,504.5 1887.9,504.5 1972.5,504.5 1972.5,558.9 1972.5,613.3 1972.5,667.7 1972.5,722.1 1972.5,776.5 1972.5,830.9 1972.5,885.3 1972.5,939.7 1972.5,994.1 1972.5,1048.5 1972.5,1102.9 1972.5,1157.3 1972.5,1211.7 1972.5,1269.1Z"/>
<path fill="#00ffb2" d="M1972.5,1314.7 1959.3,1314.6 1887.9,1314.8 1874.3,1314.4 1803.2,1314.9 1789.8,1314.4 1718.6,1314.2 1703.0,1313.0 1634.0,1313.0 1563.5,1314.0 1549.3,1315.0 1480.3,1313.1 1464.7,1313.5 1449.3,1313.2 1380.1,1313.2 1310.9,1313.2 1295.4,1313.3 1226.1,1313.3 1210.8,1313.5 1196.0,1313.6 1126.2,1313.1 1054.7,1314.6 1041.6,1314.9 1027.8,1314.2 956.9,1312.5 939.5,1311.9 872.3,1313.1 856.8,1313.1 787.7,1312.3 719.0,1312.8 703.0,1312.9 686.5,1312.5 618.4,1311.9 599.6,1311.1 533.8,1311.1 465.5,1312.6 449.1,1313.2 433.5,1313.0 364.5,1311.5 364.5,1269.1 364.5,1211.7 364.5,1157.3 364.5,1102.9 364.5,1048.5 364.5,994.1 364.5,939.7 364.5,885.3 364.5,830.9 364.5,776.5 364.5,722.1 364.5,667.7 364.5,613.3 364.5,558.9 364.5,504.5 449.1,504.5 533.8,504.5 618.4,504.5 703.0,504.5 787.7,504.5 872.3,504.5 956.9,504.5 1041.6,504.5 1126.2,504.5 1210.8,504.5 1295.4,504.5 1380.1,504.5 1464.7,504.5 1549.3,504.5 1634.0,504.5 1718.6,504.5 1803.2,504.5 1887.9,504.5 1972.5,504.5 1972.5,558.9 1972.5,613.3 1972.5,667.7 1972.5,722.1 1972.5,776.5 1972.5,830.9 1972.5,885.3 1972.5,939.7 1972.5,994.1 1972.5,1048.5 1972.5,1102.9 1972.5,1157.3 1972.5,1211.7 1972.5,1269.1Z"/>
<path fill="#00ff99" d="M1972.5,1313.3 1957.1,1313.2 1887.9,1313.4 1871.9,1312.9 1803.2,1313.4 1787.3,1312.8 1718.6,1312.6 1700.1,1311.2 1634.0,1311.2 1566.4,1312.1 1549.3,1313.4 1482.8,1311.5 1464.7,1312.0 1446.9,1311.6 1380.1,1311.6 1313.3,1311.6 1295.4,1311.8 1228.4,1311.8 1210.8,1312.0 1193.7,1312.1 1126.2,1311.6 1057.1,1313.1 1041.6,1313.4 1025.3,1312.6 956.9,1310.9 937.0,1310.3 872.3,1311.5 854.2,1311.5 787.7,1310.6 721.6,1311.2 703.0,1311.3 683.8,1310.8 618.4,1310.2 596.8,1309.2 533.8,1309.2 468.4,1310.7 449.1,1311.4 430.7,1311.2 364.5,1309.8 364.5,1269.1 364.5,1211.7 364.5,1157.3 364.5,1102.9 364.5,1048.5 364.5,994.1 364.5,939.7 364.5,885.3 364.5,830.9 364.5,776.5 364.5,722.1 364.5,667.7 364.5,613.3 364.5,558.9 364.5,504.5 449.1,504.5 533.8,504.5 618.4,504.5 703.0,504.5 787.7,504.5 872.3,504.5 956.9,504.5 1041.6,504.5 1126.2,504.5 1210.8,504.5 1295.4,504.5 1380.1,504.5 1464.7,504.5 1549.3,504.5 1634.0,504.5 1718.6,504.5 1803.2,504.5 1887.9,504.5 1972.5,504.5 1972.5,558.9 1972.5,613.3 1972.5,667.7 1972.5,722.1 1972.5,776.5 1972.5,830.9 1972.5,885.3 1972.5,939.7 1972.5,994.1 1972.5,1048.5 1972.5,1102.9 1972.5,1157.3 1972.5,1211.7 1972.5,1269.1Z"/>
<path fill="#00ff80" d="M1972.5,1311.9 1954.8,1311.8 1887.9,1312.0 1869.6,1311.3 1803.2,1311.9 1784.7,1311.2 1718.6,1311.0 1697.3,1309.4 1634.0,1309.4 1569.3,1310.3 1549.3,1311.8 1485.2,1309.9 1464.7,1310.5 1444.4,1310.1 1380.1,1310.1 1315.7,1310.1 1295.4,1310.2 1230.8,1310.2 1210.8,1310.5 1191.4,1310.6 1126.2,1310.1 1059.5,1311.6 1041.6,1311.9 1022.8,1311.0 956.9,1309.4 934.4,1308.7 872.3,1309.8 851.5,1309.8 787.7,1309.0 724.2,1309.5 703.0,1309.6 681.2,1309.1 618.4,1308.5 593.9,1307.4 533.8,1307.4 471.4,1308.8 449.1,1309.6 427.8,1309.4 364.5,1308.1 364.5,1269.1 364.5,1211.7 364.5,1157.3 364.5,1102.9 364.5,1048.5 364.5,994.1 364.5,939.7 364.5,885.3 364.5,830.9 364.5,776.5 364.5,722.1 364.5,667.7 364.5,613.3 364.5,558.9 364.5,504.5 449.1,504.5 533.8,504.5 618.4,504.5 703.0,504.5 787.7,504.5 872.3,504.5 956.9,504.5 1041.6,504.5 1126.2,504.5 1210.8,504.5 1295.4,504.5 1380.1,504.5 1464.7,504.5 1549.3,504.5 1634.0,504.5 1718.6,504.5 1803.2,504.5 1887.9,504.5 1972.5,504.5 1972.5,558.9 1972.5,613.3 1972.5,667.7 1972.5,722.1 1972.5,776.5 1972.5,830.9 1972.5,885.3 1972.5,939.7 1972.5,994.1 1972.5,1048.5 1972.5,1102.9 1972.5,1157.3 1972.5,1211.7 1972.5,1269.1Z"/>
<path fill="#00ff66" d="M1972.5,1310.6 1952.6,1310.3 1887.9,1310.6 1867.2,1309.8 1803.2,1310.3 1782.2,1309.6 1718.6,1309.4 1694.5,1307.6 1634.0,1307.6 1572.2,1308.5 1549.3,1310.1 1487.7,1308.4 1464.7,1309.0 1442.0,1308.6 1380.1,1308.6 1318.1,1308.6 1295.4,1308.7 1233.2,1308.7 1210.8,1309.1 1189.0,1309.1 1126.2,1308.7 1061.8,1310.1 1041.6,1310.5 1020.3,1309.4 956.9,1307.9 931.9,1307.1 872.3,1308.2 848.9,1308.1 787.7,1307.4 726.8,1307.9 703.0,1308.0 678.5,1307.4 618.4,1306.9 591.1,1305.6 533.8,1305.6 474.3,1306.9 449.1,1307.8 425.0,1307.6 364.5,1306.3 364.5,1269.1 364.5,1211.7 364.5,1157.3 364.5,1102.9 364.5,1048.5 364.5,994.1 364.5,939.7 364.5,885.3 364.5,830.9 364.5,776.5 364.5,722.1 364.5,667.7 364.5,613.3 364.5,558.9 364.5,504.5 449.1,504.5 533.8,504.5 618.4,504.5 703.0,504.5 787.7,504.5 872.3,504.5 956.9,504.5 1041.6,504.5 1126.2,504.5 1210.8,504.5 1295.4,504.5 1380.1,504.5 1464.7,504.5 1549.3,504.5 1634.0,504.5 1718.6,504.5 1803.2,504.5 1887.9,504.5 1972.5,504.5 1972.5,558.9 1972.5,613.3 1972.5,667.7 1972.5,722.1 1972.5,776.5 1972.5,830.9 1972.5,885.3 1972.5,939.7 1972.5,994.1 1972.5,1048.5 1972.5,1102.9 1972.5,1157.3 1972.5,1211.7 1972.5,1269.1Z"/>
<path fill="#00ff4c" d="M1972.5,1309.2 1950.4,1308.9 1887.9,1309.2 1864.8,1308.3 1803.2,1308.8 1779.7,1308.0 1718.6,1307.8 1691.6,1305.8 1634.0,1305.8 1575.1,1306.6 1549.3,1308.5 1490.1,1306.8 1464.7,1307.5 1439.6,1307.0 1380.1,1307.0 1320.6,1307.0 1295.4,1307.2 1235.6,1307.2 1210.8,1307.6 1186.7,1307.7 1126.2,1307.2 1064.2,1308.6 1041.6,1309.0 1017.8,1307.9 956.9,1306.3 929.4,1305.5 872.3,1306.5 846.3,1306.5 787.7,1305.7 729.4,1306.2 703.0,1306.3 675.8,1305.7 618.4,1305.2 588.2,1303.8 533.8,1303.8 477.3,1305.1 449.1,1306.1 422.2,1305.8 364.5,1304.6 364.5,1269.1 364.5,1211.7 364.5,1157.3 364.5,1102.9 364.5,1048.5 364.5,994.1 364.5,939.7 364.5,885.3 364.5,830.9 364.5,776.5 364.5,722.1 364.5,667.7 364.5,613.3 364.5,558.9 364.5,504.5 449.1,504.5 533.8,504.5 618.4,504.5 703.0,504.5 787.7,504.5 872.3,504.5 956.9,504.5 1041.6,504.5 1126.2,504.5 1210.8,504.5 1295.4,504.5 1380.1,504.5 1464.7,504.5 1549.3,504.5 1634.0,504.5 1718.6,504.5 1803.2,504.5 1887.9,504.5 1972.5,504.5 1972.5,558.9 1972.5,613.3 1972.5,667.7 1972.5,722.1 1972.5,776.5 1972.5,830.9 1972.5,885.3 1972.5,939.7 1972.5,994.1 1972.5,1048.5 1972.5,1102.9 1972.5,1157.3 1972.5,1211.7 1972.5,1269.1Z"/>
<path fill="#00ff33" d="M1972.5,1307.8 1948.2,1307.5 1887.9,1307.7 1862.5,1306.8 1803.2,1307.3 1777.2,1306.4 1718.6,1306.2 1688.8,1304.0 1634.0,1304.0 1578.0,1304.8 1549.3,1306.9 1492.6,1305.3 1464.7,1306.0 1437.2,1305.5 1380.1,1305.5 1323.0,1305.5 1295.4,1305.7 1238.0,1305.7 1210.8,1306.1 1184.4,1306.2 1126.2,1305.8 1066.6,1307.1 1041.6,1307.5 1015.3,1306.3 956.9,1304.8 926.8,1303.8 872.3,1304.9 843.7,1304.8 787.7,1304.1 732.0,1304.6 703.0,1304.7 673.1,1304.0 618.4,1303.5 585.4,1302.0 533.8,1302.0 480.2,1303.2 449.1,1304.3 419.3,1304.0 364.5,1302.8 364.5,1269.1 364.5,1211.7 364.5,1157.3 364.5,1102.9 364.5,1048.5 364.5,994.1 364.5,939.7 364.5,885.3 364.5,830.9 364.5,776.5 364.5,722.1 364.5,667.7 364.5,613.3 364.5,558.9 364.5,504.5 449.1,504.5 533.8,504.5 618.4,504.5 703.0,504.5 787.7,504.5 872.3,504.5 956.9,504.5 1041.6,504.5 1126.2,504.5 1210.8,504.5 1295.4,504.5 1380.1,504.5 1464.7,504.5 1549.3,504.5 1634.0,504.5 1718.6,504.5 1803.2,504.5 1887.9,504.5 1972.5,504.5 1972.5,558.9 1972.5,613.3 1972.5,667.7 1972.5,722.1 1972.5,776.5 1972.5,830.9 1972.5,885.3 1972.5,939.7 1972.5,994.1 1972.5,1048.5 1972.5,1102.9 1972.5,1157.3 1972.5,1211.7 1972.5,1269.1Z"/>
<path fill="#00ff1a" d="M1972.5,1306.4 1946.0,1306.1 1887.9,1306.3 1860.1,1305.3 1803.2,1305.8 1774.6,1304.8 1718.6,1304.6 1686.0,1302.2 1634.0,1302.2 1580.9,1302.9 1549.3,1305.2 1495.0,1303.7 1464.7,1304.5 1434.8,1303.9 1380.1,1303.9 1325.4,1303.9 1295.4,1304.2 1240.4,1304.2 1210.8,1304.6 1182.1,1304.7 1126.2,1304.3 1069.0,1305.5 1041.6,1306.0 1012.8,1304.7 956.9,1303.3 924.3,1302.2 872.3,1303.2 841.1,1303.1 787.7,1302.5 734.6,1302.9 703.0,1303.0 670.4,1302.2 618.4,1301.8 582.5,1300.2 533.8,1300.2 483.2,1301.3 449.1,1302.5 416.5,1302.2 364.5,1301.1 364.5,1269.1 364.5,1211.7 364.5,1157.3 364.5,1102.9 364.5,1048.5 364.5,994.1 364.5,939.7 364.5,885.3 364.5,830.9 364.5,776.5 364.5,722.1 364.5,667.7 364.5,613.3 364.5,558.9 364.5,504.5 449.1,504.5 533.8,504.5 618.4,504.5 703.0,504.5 787.7,504.5 872.3,504.5 956.9,504.5 1041.6,504.5 1126.2,504.5 1210.8,504.5 1295.4,504.5 1380.1,504.5 1464.7,504.5 1549.3,504.5 1634.0,504.5 1718.6,504.5 1803.2,504.5 1887.9,504.5 1972.5,504.5 1972.5,558.9 1972.5,613.3 1972.5,667.7 1972.5,722.1 1972.5,776.5 1972.5,830.9 1972.5,885.3 1972.5,939.7 1972.5,994.1 1972.5,1048.5 1972.5,1102.9 1972.5,1157.3 1972.5,1211.7 1972.5,1269.1Z"/>
<path fill="#00ff00" d="M1972.5,1305.0 1943.7,1304.7 1887.9,1304.9 1857.7,1303.8 1803.2,1304.2 1772.1,1303.2 1718.6,1303.0 1683.1,1300.4 1634.0,1300.4 1583.7,1301.1 1549.3,1303.6 1497.5,1302.1 1464.7,1303.0 1432.3,1302.4 1380.1,1302.4 1327.8,1302.4 1295.4,1302.6 1242.8,1302.6 1210.8,1303.1 1179.8,1303.2 1126.2,1302.8 1071.3,1304.0 1041.6,1304.6 1010.3,1303.1 956.9,1301.8 921.8,1300.6 872.3,1301.5 838.5,1301.5 787.7,1300.9 737.2,1301.3 703.0,1301.4 667.8,1300.5 618.4,1300.1 579.7,1298.3 533.8,1298.3 486.2,1299.4 449.1,1300.7 413.7,1300.4 364.5,1299.3 364.5,1269.1 364.5,1211.7 364.5,1157.3 364.5,1102.9 364.5,1048.5 364.5,994.1 364.5,939.7 364.5,885.3 364.5,830.9 364.5,776.5 364.5,722.1 364.5,667.7 364.5,613.3 364.5,558.9 364.5,504.5 449.1,504.5 533.8,504.5 618.4,504.5 703.0,504.5 787.7,504.5 872.3,504.5 956.9,504.5 1041.6,504.5 1126.2,504.5 1210.8,504.5 1295.4,504.5 1380.1,504.5 1464.7,504.5 1549.3,504.5 1634.0,504.5 1718.6,504.5 1803.2,504.5 1887.9,504.5 1972.5,504.5 1972.5,558.9 1972.5,613.3 1972.5,667.7 1972.5,722.1 1972.5,776.5 1972.5,830.9 1972.5,885.3 1972.5,939.7 1972.5,994.1 1972.5,1048.5 1972.5,1102.9 1972.5,1157.3 1972.5,1211.7 1972.5,1269.1Z"/>
<path fill="#00ff00" d="M1972.5,1303.6 1941.5,1303.3 1887.9,1303.5 1855.4,1302.3 1803.2,1302.7 1769.6,1301.6 1718.6,1301.4 1680.3,1298.6 1634.0,1298.6 1586.6,1299.2 1549.3,1302.0 1499.9,1300.6 1464.7,1301.5 1429.9,1300.8 1380.1,1300.8 1330.2,1300.8 1295.4,1301.1 1245.2,1301.1 1210.8,1301.6 1177.4,1301.7 1126.2,1301.4 1073.7,1302.5 1041.6,1303.1 1007.8,1301.5 956.9,1300.2 919.3,1299.0 872.3,1299.9 835.9,1299.8 787.7,1299.2 739.7,1299.6 703.0,1299.8 665.1,1298.8 618.4,1298.4 576.8,1296.5 533.8,1296.5 489.1,1297.5 449.1,1299.0 410.8,1298.6 364.5,1297.6 364.5,1269.1 364.5,1211.7 364.5,1157.3 364.5,1102.9 364.5,1048.5 364.5,994.1 364.5,939.7 364.5,885.3 364.5,830.9 364.5,776.5 364.5,722.1 364.5,667.7 364.5,613.3 364.5,558.9 364.5,504.5 449.1,504.5 533.8,504.5 618.4,504.5 703.0,504.5 787.7,504.5 872.3,504.5 956.9,504.5 1041.6,504.5 1126.2,504.5 1210.8,504.5 1295.4,504.5 1380.1,504.5 1464.7,504.5 1549.3,504.5 1634.0,504.5 1718.6,504.5 1803.2,504.5 1887.9,504.5 1972.5,504.5 1972.5,558.9 1972.5,613.3 1972.5,667.7 1972.5,722.1 1972.5,776.5 1972.5,830.9 1972.5,885.3 1972.5,939.7 1972.5,994.1 1972.5,1048.5 1972.5,1102.9 1972.5,1157.3 1972.5,1211.7 1972.5,1269.1Z"/>
<path fill="#00ff00" d="M1972.5,1302.2 1939.3,1301.9 1887.9,1302.0 1853.0,1300.8 1803.2,1301.2 1767.0,1299.9 1718.6,1299.8 1677.5,1296.8 1634.0,1296.8 1589.5,1297.4 1549.3,1300.3 1502.4,1299.0 1464.7,1300.0 1427.5,1299.3 1380.1,1299.3 1332.7,1299.3 1295.4,1299.6 1247.6,1299.6 1210.8,1300.1 1175.1,1300.3 1126.2,1299.9 1076.1,1301.0 1041.6,1301.6 1005.3,1299.9 956.9,1298.7 916.7,1297.4 872.3,1298.2 833.3,1298.2 787.7,1297.6 742.3,1298.0 703.0,1298.1 662.4,1297.1 618.4,1296.8 574.0,1294.7 533.8,1294.7 492.1,1295.7 449.1,1297.2 408.0,1296.8 364.5,1295.9 364.5,1269.1 364.5,1211.7 364.5,1157.3 364.5,1102.9 364.5,1048.5 364.5,994.1 364.5,939.7 364.5,885.3 364.5,830.9 364.5,776.5 364.5,722.1 364.5,667.7 364.5,613.3 364.5,558.9 364.5,504.5 449.1,504.5 533.8,504.5 618.4,504.5 703.0,504.5 787.7,504.5 872.3,504.5 956.9,504.5 1041.6,504.5 1126.2,504.5 1210.8,504.5 1295.4,504.5 1380.1,504.5 1464.7,504.5 1549.3,504.5 1634.0,504.5 1718.6,504.5 1803.2,504.5 1887.9,504.5 1972.5,504.5 1972.5,558.9 1972.5,613.3 1972.5,667.7 1972.5,722.1 1972.5,776.5 1972.5,830.9 1972.5,885.3 1972.5,939.7 1972.5,994.1 1972.5,1048.5 1972.5,1102.9 1972.5,1157.3 1972.5,1211.7 1972.5,1269.1ZM868.8,885.3 872.3,887.5 876.9,885.3 872.3,883.2Z"/>
<path fill="#00ff00" d="M1972.5,1300.8 1937.1,1300.4 1887.9,1300.6 1850.7,1299.3 1803.2,1299.7 1764.5,1298.3 1718.6,1298.2 1674.7,1295.0 1634.0,1295.0 1592.4,1295.6 1549.3,1298.7 1504.8,1297.4 1464.7,1298.5 1425.1,1297.8 1380.1,1297.8 1335.1,1297.8 1295.4,1298.1 1250.0,1298.1 1210.8,1298.6 1172.8,1298.8 1126.2,1298.4 1078.5,1299.5 1041.6,1300.2 1002.8,1298.3 956.9,1297.2 914.2,1295.8 872.3,1296.6 830.7,1296.5 787.7,1296.0 744.9,1296.3 703.0,1296.5 659.7,1295.4 618.4,1295.1 571.1,1292.9 533.8,1292.9 495.0,1293.8 449.1,1295.4 405.2,1295.0 364.5,1294.1 364.5,1269.1 364.5,1211.7 364.5,1157.3 364.5,1102.9 364.5,1048.5 364.5,994.1 364.5,939.7 364.5,885.3 364.5,830.9 364.5,776.5 364.5,722.1 364.5,667.7 364.5,613.3 364.5,558.9 364.5,504.5 449.1,504.5 533.8,504.5 618.4,504.5 703.0,504.5 787.7,504.5 872.3,504.5 956.9,504.5 1041.6,504.5 1126.2,504.5 1210.8,504.5 1295.4,504.5 1380.1,504.5 1464.7,504.5 1549.3,504.5 1634.0,504.5 1718.6,504.5 1803.2,504.5 1887.9,504.5 1972.5,504.5 1972.5,558.9 1972.5,613.3 1972.5,667.7 1972.5,722.1 1972.5,776.5 1972.5,830.9 1972.5,885.3 1972.5,939.7 1972.5,994.1 1972.5,1048.5 1972.5,1102.9 1972.5,1157.3 1972.5,1211.7 1972.5,1269.1ZM860.4,885.3 872.3,892.7 887.7,885.3 872.3,878.2Z"/>
<path fill="#00ff00" d="M1972.5,1299.4 1934.9,1299.0 1887.9,1299.2 1848.3,1297.8 1803.2,1298.1 1762.0,1296.7 1718.6,1296.6 1671.8,1293.2 1634.0,1293.2 1595.3,1293.7 1549.3,1297.1 1507.3,1295.9 1464.7,1297.0 1422.6,1296.2 1380.1,1296.2 1337.5,1296.2 1295.4,1296.5 1252.4,1296.5 1210.8,1297.1 1170.5,1297.3 1126.2,1297.0 1080.9,1298.0 1041.6,1298.7 1000.3,1296.7 956.9,1295.6 911.7,1294.2 872.3,1294.9 828.1,1294.8 787.7,1294.3 747.5,1294.7 703.0,1294.8 657.0,1293.7 618.4,1293.4 568.3,1291.1 533.8,1291.1 498.0,1291.9 449.1,1293.6 402.3,1293.2 364.5,1292.4 364.5,1269.1 364.5,1211.7 364.5,1157.3 364.5,1102.9 364.5,1048.5 364.5,994.1 364.5,939.7 364.5,885.3 364.5,830.9 364.5,776.5 364.5,722.1 364.5,667.7 364.5,613.3 364.5,558.9 364.5,504.5 449.1,504.5 533.8,504.5 618.4,504.5 703.0,504.5 787.7,504.5 872.3,504.5 956.9,504.5 1041.6,504.5 1126.2,504.5 1210.8,504.5 1295.4,504.5 1380.1,504.5 1464.7,504.5 1549.3,504.5 1634.0,504.5 1718.6,504.5 1803.2,504.5 1887.9,504.5 1972.5,504.5 1972.5,558.9 1972.5,613.3 1972.5,667.7 1972.5,722.1 1972.5,776.5 1972.5,830.9 1972.5,885.3 1972.5,939.7 1972.5,994.1 1972.5,1048.5 1972.5,1102.9 1972.5,1157.3 1972.5,1211.7 1972.5,1269.1ZM852.0,885.3 872.3,897.9 898.6,885.3 872.3,873.2Z"/>
<path fill="#00ff00" d="M1972.5,1298.0 1932.6,1297.6 1887.9,1297.8 1845.9,1296.3 1803.2,1296.6 1759.5,1295.1 1718.6,1295.0 1669.0,1291.4 1634.0,1291.4 1598.2,1291.9 1549.3,1295.4 1509.7,1294.3 1464.7,1295.5 1420.2,1294.7 1380.1,1294.7 1339.9,1294.7 1295.4,1295.0 1254.8,1295.0 1210.8,1295.7 1168.1,1295.8 1126.2,1295.5 1083.2,1296.4 1041.6,1297.2 997.8,1295.1 956.9,1294.1 909.1,1292.6 872.3,1293.3 825.4,1293.2 787.7,1292.7 750.1,1293.0 703.0,1293.2 654.4,1292.0 618.4,1291.7 565.4,1289.3 533.8,1289.3 500.9,1290.0 449.1,1291.8 399.5,1291.4 364.5,1290.6 364.5,1269.1 364.5,1211.7 364.5,1157.3 364.5,1102.9 364.5,1048.5 364.5,994.1 364.5,939.7 364.5,885.3 364.5,830.9 364.5,776.5 364.5,722.1 364.5,667.7 364.5,613.3 364.5,558.9 364.5,504.5 449.1,504.5 533.8,504.5 618.4,504.5 703.0,504.5 787.7,504.5 872.3,504.5 956.9,504.5 1041.6,504.5 1126.2,504.5 1210.8,504.5 1295.4,504.5 1380.1,504.5 1464.7,504.5 1549.3,504.5 1634.0,504.5 1718.6,504.5 1803.2,504.5 1887.9,504.5 1972.5,504.5 1972.5,558.9 1972.5,613.3 1972.5,667.7 1972.5,722.1 1972.5,776.5 1972.5,830.9 1972.5,885.3 1972.5,939.7 1972.5,994.1 1972.5,1048.5 1972.5,1102.9 1972.5,1157.3 1972.5,1211.7 1972.5,1269.1ZM843.6,885.3 872.3,903.2 909.5,885.3 872.3,868.1Z"/>
<path fill="#00ff00" d="M1972.5,1296.6 1930.4,1296.2 1887.9,1296.3 1843.6,1294.8 1803.2,1295.1 1756.9,1293.5 1718.6,1293.4 1666.2,1289.6 1634.0,1289.6 1601.1,1290.0 1549.3,1293.8 1512.2,1292.8 1464.7,1294.0 1417.8,1293.1 1380.1,1293.1 1342.4,1293.1 1295.4,1293.5 1257.2,1293.5 1210.8,1294.2 1165.8,1294.3 1126.2,1294.0 1085.6,1294.9 1041.6,1295.7 995.3,1293.5 956.9,1292.6 906.6,1291.0 872.3,1291.6 822.8,1291.5 787.7,1291.1 752.7,1291.4 703.0,1291.6 651.7,1290.3 618.4,1290.0 562.6,1287.4 533.8,1287.4 503.9,1288.1 449.1,1290.1 396.7,1289.6 364.5,1288.9 364.5,1269.1 364.5,1211.7 364.5,1157.3 364.5,1102.9 364.5,1048.5 364.5,994.1 364.5,939.7 364.5,885.3 364.5,830.9 364.5,776.5 364.5,722.1 364.5,667.7 364.5,613.3 364.5,558.9 364.5,504.5 449.1,504.5 533.8,504.5 618.4,504.5 703.0,504.5 787.7,504.5 872.3,504.5 956.9,504.5 1041.6,504.5 1126.2,504.5 1210.8,504.5 1295.4,504.5 1380.1,504.5 1464.7,504.5 1549.3,504.5 1634.0,504.5 1718.6,504.5 1803.2,504.5 1887.9,504.5 1972.5,504.5 1972.5,558.9 1972.5,613.3 1972.5,667.7 1972.5,722.1 1972.5,776.5 1972.5,830.9 1972.5,885.3 1972.5,939.7 1972.5,994.1 1972.5,1048.5 1972.5,1102.9 1972.5,1157.3 1972.5,1211.7 1972.5,1269.1ZM835.3,885.3 872.3,908.4 920.3,885.3 872.3,863.1Z"/>
<path fill="#00ff00" d="M1972.5,1295.2 1928.2,1294.8 1887.9,1294.9 1841.2,1293.3 1803.2,1293.6 1754.4,1291.9 1718.6,1291.8 1663.3,1287.8 1634.0,1287.8 1604.0,1288.2 1549.3,1292.2 1514.6,1291.2 1464.7,1292.5 1415.4,1291.6 1380.1,1291.6 1344.8,1291.6 1295.4,1292.0 1259.6,1292.0 1210.8,1292.7 1163.5,1292.9 1126.2,1292.6 1088.0,1293.4 1041.6,1294.3 992.8,1291.9 956.9,1291.1 904.1,1289.4 872.3,1289.9 820.2,1289.8 787.7,1289.4 755.3,1289.7 703.0,1289.9 649.0,1288.6 618.4,1288.3 559.7,1285.6 533.8,1285.6 506.8,1286.2 449.1,1288.3 393.9,1287.8 364.5,1287.2 364.5,1269.1 364.5,1211.7 364.5,1157.3 364.5,1102.9 364.5,1048.5 364.5,994.1 364.5,939.7 364.5,885.3 364.5,830.9 364.5,776.5 364.5,722.1 364.5,667.7 364.5,613.3 364.5,558.9 364.5,504.5 449.1,504.5 533.8,504.5 618.4,504.5 703.0,504.5 787.7,504.5 872.3,504.5 956.9,504.5 1041.6,504.5 1126.2,504.5 1210.8,504.5 1295.4,504.5 1380.1,504.5 1464.7,504.5 1549.3,504.5 1634.0,504.5 1718.6,504.5 1803.2,504.5 1887.9,504.5 1972.5,504.5 1972.5,558.9 1972.5,613.3 1972.5,667.7 1972.5,722.1 1972.5,776.5 1972.5,830.9 1972.5,885.3 1972.5,939.7 1972.5,994.1 1972.5,1048.5 1972.5,1102.9 1972.5,1157.3 1972.5,1211.7 1972.5,1269.1ZM826.9,885.3 872.3,913.6 931.2,885.3 872.3,858.1Z"/>
<path fill="#00ff00" d="M1972.5,1293.9 1926.0,1293.4 1887.9,1293.5 1838.8,1291.8 1803.2,1292.0 1751.9,1290.3 1718.6,1290.2 1660.5,1286.0 1634.0,1286.0 1606.9,1286.4 1549.3,1290.6 1517.1,1289.6 1464.7,1291.0 1413.0,1290.0 1380.1,1290.0 1347.2,1290.0 1295.4,1290.4 1261.9,1290.4 1210.8,1291.2 1161.2,1291.4 1126.2,1291.1 1090.4,1291.9 1041.6,1292.8 990.3,1290.4 956.9,1289.5 901.6,1287.7 872.3,1288.3 817.6,1288.2 787.7,1287.8 757.9,1288.1 703.0,1288.3 646.3,1286.9 618.4,1286.7 556.9,1283.8 533.8,1283.8 509.8,1284.4 449.1,1286.5 391.0,1286.0 364.5,1285.4 364.5,1269.1 364.5,1211.7 364.5,1157.3 364.5,1102.9 364.5,1048.5 364.5,994.1 364.5,939.7 364.5,885.3 364.5,830.9 364.5,776.5 364.5,722.1 364.5,667.7 364.5,613.3 364.5,570.1 373.0,558.9 364.5,553.1 364.5,504.5 449.1,504.5 533.8,504.5 618.4,504.5 703.0,504.5 787.7,504.5 872.3,504.5 956.9,504.5 1041.6,504.5 1126.2,504.5 1210.8,504.5 1295.4,504.5 1380.1,504.5 1464.7,504.5 1549.3,504.5 1634.0,504.5 1718.6,504.5 1803.2,504.5 1887.9,504.5 1972.5,504.5 1972.5,558.9 1972.5,613.3 1972.5,667.7 1972.5,722.1 1972.5,776.5 1972.5,830.9 1972.5,885.3 1972.5,939.7 1972.5,994.1 1972.5,1048.5 1972.5,1102.9 1972.5,1157.3 1972.5,1211.7 1972.5,1269.1ZM818.5,885.3 872.3,918.8 942.1,885.3 872.3,853.1Z"/>
<path fill="#60ff00" d="M1972.5,1292.5 1923.8,1292.0 1887.9,1292.1 1836.5,1290.3 1803.2,1290.5 1749.3,1288.7 1718.6,1288.6 1657.7,1284.2 1634.0,1284.2 1609.8,1284.5 1549.3,1288.9 1519.5,1288.1 1464.7,1289.5 1410.5,1288.5 1380.1,1288.5 1349.6,1288.5 1295.4,1288.9 1264.3,1288.9 1210.8,1289.7 1158.8,1289.9 1126.2,1289.7 1092.8,1290.4 1041.6,1291.3 987.8,1288.8 956.9,1288.0 899.0,1286.1 872.3,1286.6 815.0,1286.5 787.7,1286.2 760.5,1286.4 703.0,1286.6 643.6,1285.2 618.4,1285.0 554.0,1282.0 533.8,1282.0 512.8,1282.5 449.1,1284.7 388.2,1284.2 364.5,1283.7 364.5,1269.1 364.5,1211.7 364.5,1157.3 364.5,1102.9 364.5,1048.5 364.5,994.1 364.5,939.7 364.5,885.3 364.5,830.9 364.5,776.5 364.5,722.1 364.5,667.7 364.5,613.3 364.5,585.3 384.4,558.9 364.5,545.3 364.5,504.5 449.1,504.5 533.8,504.5 618.4,504.5 703.0,504.5 787.7,504.5 872.3,504.5 956.9,504.5 1041.6,504.5 1126.2,504.5 1210.8,504.5 1295.4,504.5 1380.1,504.5 1464.7,504.5 1549.3,504.5 1634.0,504.5 1718.6,504.5 1803.2,504.5 1887.9,504.5 1972.5,504.5 1972.5,558.9 1972.5,613.3 1972.5,667.7 1972.5,722.1 1972.5,776.5 1972.5,830.9 1972.5,885.3 1972.5,939.7 1972.5,994.1 1972.5,1048.5 1972.5,1102.9 1972.5,1157.3 1972.5,1211.7 1972.5,1269.1ZM810.1,885.3 872.3,924.0 952.9,885.3 872.3,848.1ZM1713.9,939.7 1718.6,942.3 1725.0,939.7 1718.6,928.0ZM529.4,1157.3 533.8,1160.0 539.6,1157.3 533.8,1152.1Z"/>
<path fill="#98ff00" d="M1972.5,745.4 1930.2,749.3 1887.9,743.9 1869.7,776.5 1887.9,791.3 1944.3,812.8 1972.5,816.1 1972.5,830.9 1972.5,885.3 1972.5,939.7 1972.5,994.1 1972.5,1000.9 1913.3,1048.5 1972.5,1069.7 1972.5,1102.9 1972.5,1157.3 1972.5,1211.7 1972.5,1269.1 1972.5,1291.1 1921.5,1290.5 1887.9,1290.7 1834.1,1288.8 1803.2,1289.0 1746.8,1287.1 1718.6,1287.0 1654.8,1282.4 1634.0,1282.4 1612.7,1282.7 1549.3,1287.3 1522.0,1286.5 1464.7,1288.0 1408.1,1287.0 1380.1,1287.0 1352.0,1287.0 1295.4,1287.4 1266.7,1287.4 1210.8,1288.2 1156.5,1288.4 1126.2,1288.2 1095.1,1288.9 1041.6,1289.9 985.3,1287.2 956.9,1286.5 896.5,1284.5 872.3,1285.0 812.4,1284.8 787.7,1284.5 763.1,1284.7 703.0,1285.0 641.0,1283.5 618.4,1283.3 551.2,1280.2 533.8,1280.2 515.7,1280.6 449.1,1282.9 385.4,1282.4 364.5,1281.9 364.5,1269.1 364.5,1211.7 364.5,1157.3 364.5,1102.9 364.5,1048.5 364.5,994.1 364.5,939.7 364.5,885.3 364.5,830.9 364.5,776.5 364.5,722.1 364.5,667.7 364.5,613.3 364.5,600.5 395.9,558.9 364.5,537.5 364.5,504.5 449.1,504.5 533.8,504.5 618.4,504.5 703.0,504.5 787.7,504.5 872.3,504.5 956.9,504.5 1041.6,504.5 1126.2,504.5 1210.8,504.5 1295.4,504.5 1380.1,504.5 1464.7,504.5 1549.3,504.5 1634.0,504.5 1718.6,504.5 1803.2,504.5 1887.9,504.5 1972.5,504.5 1972.5,558.9 1972.5,613.3 1972.5,667.7 1972.5,722.1ZM528.5,613.3 509.6,628.8 533.8,619.3 544.3,613.3 533.8,609.1ZM1709.7,776.5 1718.6,786.0 1731.6,776.5 1737.4,764.4 1718.6,772.1ZM801.8,885.3 872.3,929.3 936.6,898.4 956.9,897.9 985.1,885.3 956.9,875.7 939.4,874.0 872.3,843.0ZM1708.6,885.3 1701.7,896.2 1684.1,939.7 1718.6,958.4 1765.2,939.7 1744.6,902.0 1752.5,885.3 1718.6,875.8ZM440.2,939.7 449.1,947.5 461.2,939.7 449.1,932.9ZM1209.0,994.1 1182.6,1030.4 1191.3,1048.5 1210.8,1057.7 1239.0,1066.6 1241.3,1048.5 1269.4,1010.8 1218.5,994.1 1214.1,992.0 1210.8,993.6ZM1739.8,1048.5 1803.2,1067.3 1866.7,1048.5 1803.2,1007.7ZM512.6,1157.3 533.8,1170.1 562.0,1157.3 533.8,1132.2Z"/>
<path fill="#c0ff00" d="M1972.5,716.5 1900.8,713.8 1887.9,714.2 1841.3,722.1 1862.0,738.7 1841.0,776.5 1887.9,814.8 1930.2,830.9 1972.5,863.0 1972.5,885.3 1972.5,939.7 1972.5,955.6 1947.8,955.6 1887.9,955.6 1813.8,939.7 1845.6,912.5 1827.9,885.3 1803.2,874.1 1780.5,870.7 1718.6,853.4 1685.0,885.3 1661.5,922.0 1654.3,939.7 1718.6,974.5 1799.7,942.0 1772.7,994.1 1718.6,1028.9 1661.4,994.1 1634.0,969.2 1587.4,994.1 1634.0,1024.0 1668.6,1048.5 1718.6,1083.9 1757.9,1073.8 1803.2,1087.2 1848.6,1073.8 1887.9,1083.9 1956.6,1092.7 1972.5,1098.4 1972.5,1102.9 1972.5,1157.3 1972.5,1211.7 1972.5,1269.1 1972.5,1289.7 1919.3,1289.1 1887.9,1289.2 1831.7,1287.3 1803.2,1287.5 1744.3,1285.5 1718.6,1285.4 1652.0,1280.6 1634.0,1280.6 1615.6,1280.8 1549.3,1285.7 1524.4,1285.0 1464.7,1286.5 1405.7,1285.4 1380.1,1285.4 1354.5,1285.4 1295.4,1285.9 1269.1,1285.9 1210.8,1286.7 1154.2,1286.9 1126.2,1286.7 1097.5,1287.4 1041.6,1288.4 982.8,1285.6 956.9,1284.9 894.0,1282.9 872.3,1283.3 809.8,1283.2 787.7,1282.9 765.7,1283.1 703.0,1283.4 638.3,1281.8 618.4,1281.6 548.3,1278.4 533.8,1278.4 518.7,1278.7 449.1,1281.2 382.5,1280.6 364.5,1280.2 364.5,1269.1 364.5,1211.7 364.5,1157.3 364.5,1139.8 398.0,1102.9 364.5,1087.7 364.5,1048.5 364.5,994.1 364.5,939.7 364.5,885.3 364.5,830.9 364.5,782.8 413.9,776.5 364.5,772.2 364.5,722.1 364.5,667.7 364.5,616.4 428.0,654.1 366.9,613.3 368.0,611.0 407.4,558.9 364.5,529.6 364.5,504.5 449.1,504.5 533.8,504.5 618.4,504.5 703.0,504.5 787.7,504.5 872.3,504.5 956.9,504.5 1041.6,504.5 1126.2,504.5 1210.8,504.5 1295.4,504.5 1380.1,504.5 1464.7,504.5 1549.3,504.5 1634.0,504.5 1718.6,504.5 1803.2,504.5 1887.9,504.5 1972.5,504.5 1972.5,558.9 1972.5,613.3 1972.5,667.7ZM1707.5,558.9 1718.6,566.4 1734.1,558.9 1718.6,551.4ZM515.9,613.3 452.2,665.8 533.8,633.7 569.5,613.3 533.8,599.2ZM1359.5,613.3 1380.1,621.6 1401.9,627.3 1422.4,613.3 1380.1,601.7ZM1018.3,667.7 1041.6,674.2 1110.1,722.1 1126.2,731.3 1151.3,738.2 1206.6,722.1 1126.2,700.6 1064.8,667.7 1041.6,659.8 995.0,637.8ZM1621.8,667.7 1634.0,677.4 1650.7,667.7 1634.0,658.0ZM806.9,722.1 872.3,742.2 894.1,722.1 872.3,707.7ZM1217.9,722.1 1216.1,725.5 1274.3,776.5 1250.1,805.6 1279.6,830.9 1295.4,839.1 1327.2,830.9 1380.1,803.7 1387.9,776.5 1380.1,764.1 1328.7,722.1 1295.4,717.4 1282.5,713.8ZM1688.5,776.5 1718.6,808.4 1762.5,776.5 1782.1,735.7 1718.6,761.8ZM793.4,885.3 872.3,934.5 904.4,919.0 956.9,917.7 1029.8,885.3 956.9,860.5 911.7,856.2 872.3,838.0ZM419.1,939.7 449.1,965.9 489.9,939.7 449.1,916.8ZM595.1,939.7 533.8,975.6 504.9,994.1 533.8,1023.2 565.5,994.1 618.4,956.3 671.3,960.1 703.0,947.5 727.4,955.4 722.9,939.7 703.0,925.1 663.4,914.2 618.4,918.3ZM1006.3,939.7 1012.5,975.4 1015.7,994.1 1041.6,1024.0 1074.8,994.1 1081.2,965.2 1050.9,939.7 1086.9,910.6 1041.6,898.9ZM1303.9,939.7 1295.4,944.2 1291.4,942.3 1210.8,981.4 1165.3,994.1 1152.8,1011.2 1170.7,1048.5 1210.8,1067.5 1268.8,1085.8 1273.4,1048.5 1295.4,1019.0 1361.9,994.1 1380.1,980.5 1398.2,994.1 1398.2,1036.8 1464.7,1010.7 1511.3,994.1 1464.7,969.2 1414.7,939.7 1380.1,917.4ZM691.6,1048.5 618.4,1092.2 579.6,1078.0 571.8,1102.9 618.4,1117.9 640.6,1117.1 627.7,1102.9 703.0,1052.5 740.1,1072.3 727.7,1048.5 716.5,1039.8 703.0,1044.5 684.5,1036.6ZM842.1,1102.9 872.3,1110.9 882.4,1102.9 872.3,1094.4ZM1022.2,1102.9 1041.6,1113.2 1064.8,1102.9 1041.6,1073.0ZM1335.4,1102.9 1380.1,1139.8 1460.5,1102.9 1380.1,1055.9ZM495.9,1157.3 533.8,1180.2 584.3,1157.3 533.8,1112.3ZM1181.2,1211.7 1210.8,1213.4 1222.2,1211.7 1210.8,1201.7Z"/>
<path fill="#e0ff00" d="M1972.5,701.3 1923.1,699.4 1887.9,700.6 1818.3,712.4 1803.2,713.0 1790.0,722.1 1718.6,751.5 1667.4,776.5 1718.6,830.9 1793.5,776.5 1803.2,756.1 1817.3,767.4 1812.3,776.5 1845.6,803.7 1851.6,830.9 1870.9,874.4 1803.2,843.7 1718.6,830.9 1661.4,885.3 1634.0,928.0 1608.6,939.7 1549.3,971.4 1490.1,939.7 1464.7,929.5 1395.9,885.3 1397.0,874.4 1411.3,830.9 1407.0,813.6 1417.7,776.5 1385.4,725.5 1382.7,722.1 1385.4,718.7 1380.1,720.7 1378.4,721.0 1295.4,709.4 1260.2,699.4 1210.8,705.8 1156.4,687.1 1126.2,679.0 1105.0,667.7 1041.6,646.2 972.0,613.3 956.9,606.5 945.5,605.9 872.3,604.7 853.5,601.2 815.9,613.3 872.3,629.6 918.5,643.0 956.9,640.5 978.1,667.7 1041.6,685.4 1094.0,722.1 1126.2,740.6 1176.4,754.4 1210.8,744.4 1247.5,776.5 1210.8,820.7 1147.3,830.9 1126.2,844.5 1115.6,837.7 1041.6,862.9 1004.5,861.5 956.9,845.3 884.0,838.4 872.3,833.0 823.9,862.0 787.7,876.2 769.5,885.3 787.7,894.4 872.3,939.7 956.9,937.6 967.5,932.9 961.6,939.7 962.2,943.1 971.0,994.1 988.7,1014.5 1018.0,1048.5 1011.3,1067.9 988.7,1102.9 1041.6,1131.0 1105.0,1102.9 1083.9,1075.7 1068.0,1048.5 1126.2,998.6 1150.1,1048.5 1210.8,1077.2 1292.2,1102.9 1283.4,1110.7 1295.4,1130.1 1309.6,1157.3 1380.1,1196.2 1398.9,1211.7 1458.7,1215.8 1464.7,1215.4 1477.6,1211.7 1507.0,1184.5 1500.0,1157.3 1507.0,1130.1 1519.1,1102.9 1464.7,1062.1 1441.6,1048.5 1464.7,1039.4 1496.4,1028.1 1528.2,1048.5 1549.3,1057.6 1602.2,1102.9 1602.2,1136.9 1608.6,1157.3 1634.0,1184.5 1676.3,1184.5 1718.6,1173.6 1750.3,1157.3 1803.2,1118.4 1856.1,1157.3 1824.4,1198.1 1845.6,1211.7 1887.1,1212.2 1887.9,1212.2 1971.8,1212.2 1972.5,1212.1 1972.5,1269.1 1972.5,1288.3 1917.1,1287.7 1887.9,1287.8 1829.4,1285.7 1803.2,1285.9 1741.8,1283.8 1718.6,1283.8 1649.2,1278.8 1634.0,1278.8 1618.4,1279.0 1549.3,1284.0 1526.9,1283.4 1464.7,1285.0 1403.3,1283.9 1380.1,1283.9 1356.9,1283.9 1295.4,1284.3 1271.5,1284.3 1210.8,1285.2 1151.9,1285.5 1126.2,1285.3 1099.9,1285.8 1041.6,1286.9 980.3,1284.0 956.9,1283.4 891.5,1281.3 872.3,1281.7 807.2,1281.5 787.7,1281.3 768.3,1281.4 703.0,1281.7 635.6,1280.1 618.4,1279.9 545.5,1276.6 533.8,1276.6 521.6,1276.8 449.1,1279.4 379.7,1278.8 364.5,1278.5 364.5,1269.1 364.5,1211.7 364.5,1169.7 383.7,1157.3 406.8,1130.1 431.5,1102.9 364.5,1072.5 364.5,1048.5 364.5,994.1 364.5,939.7 364.5,885.3 364.5,830.9 364.5,800.1 424.4,792.4 449.1,784.8 498.5,808.2 533.8,808.2 604.3,785.6 618.4,785.6 630.5,784.3 703.0,805.8 732.6,776.5 787.7,741.1 837.0,753.8 872.3,764.7 918.5,722.1 872.3,691.5 815.9,704.0 787.7,703.1 728.4,722.1 703.0,738.4 639.6,762.9 618.4,772.6 557.3,722.1 533.8,707.0 483.8,667.7 533.8,648.1 594.6,613.3 533.8,589.2 503.3,613.3 449.1,657.9 382.4,613.3 390.4,596.7 418.9,558.9 364.5,521.8 364.5,504.5 449.1,504.5 533.8,504.5 618.4,504.5 703.0,504.5 787.7,504.5 872.3,504.5 956.9,504.5 1041.6,504.5 1126.2,504.5 1210.8,504.5 1295.4,504.5 1380.1,504.5 1464.7,504.5 1549.3,504.5 1634.0,504.5 1718.6,504.5 1803.2,504.5 1887.9,504.5 1972.5,504.5 1972.5,558.9 1972.5,613.3 1972.5,667.7ZM364.5,636.3 417.4,667.7 449.1,678.3 523.7,722.1 449.1,767.8 433.5,766.5 364.5,760.4 364.5,722.1 364.5,667.7ZM1688.4,558.9 1718.6,579.3 1760.9,558.9 1718.6,538.5ZM1336.6,613.3 1380.1,630.8 1426.2,643.0 1464.7,616.7 1467.4,613.3 1464.7,610.3 1461.0,610.9 1380.1,588.8ZM1606.3,667.7 1634.0,689.7 1671.8,667.7 1634.0,645.7ZM604.3,885.3 604.3,894.4 554.9,939.7 533.8,952.1 468.4,994.1 502.0,1028.1 517.9,1048.5 502.0,1068.9 491.4,1102.9 514.5,1115.3 479.1,1157.3 533.8,1190.4 606.6,1157.3 576.1,1130.1 618.4,1143.7 678.8,1141.8 643.8,1102.9 703.0,1063.2 777.1,1102.9 749.2,1127.6 787.7,1130.1 830.0,1130.1 872.3,1141.3 920.7,1102.9 872.3,1062.1 834.7,1072.7 804.6,1048.5 808.8,1034.9 787.7,1043.1 753.0,1016.4 703.0,1033.8 634.3,1004.3 660.7,1048.5 618.4,1073.8 549.6,1048.5 576.1,1021.3 605.7,994.1 618.4,985.0 631.1,985.9 703.0,957.5 758.4,975.3 748.0,939.7 703.0,906.7 625.4,885.3 618.4,876.2ZM1210.8,835.2 1293.1,885.3 1291.9,887.6 1271.6,939.7 1210.8,969.2 1129.7,991.8 1126.2,993.1 1062.7,939.7 1126.2,888.3 1135.9,891.6 1132.9,885.3ZM397.9,939.7 449.1,984.4 518.7,939.7 449.1,900.6ZM1684.8,972.3 1718.6,990.7 1732.7,985.0 1728.0,994.1 1718.6,1000.1 1708.6,994.1ZM1105.0,1211.7 1126.2,1213.3 1128.6,1213.3 1210.8,1218.1 1253.1,1211.7 1210.8,1174.5 1154.4,1193.6 1126.2,1200.0Z"/>
<path fill="#ffff00" d="M1972.5,609.9 1969.9,613.3 1972.5,615.6 1972.5,667.7 1972.5,686.1 1945.5,685.1 1887.9,687.0 1847.1,693.9 1803.2,695.8 1764.9,722.1 1718.6,741.1 1646.2,776.5 1665.0,796.4 1634.0,806.4 1556.4,776.5 1549.3,773.1 1542.3,776.5 1535.2,785.6 1494.9,830.9 1501.7,861.5 1549.3,840.3 1612.8,871.7 1634.0,871.7 1645.5,877.9 1637.7,885.3 1634.0,891.1 1602.2,905.7 1549.3,934.0 1514.1,917.0 1464.7,897.2 1446.2,885.3 1450.6,840.0 1453.6,830.9 1443.6,790.1 1447.5,776.5 1435.6,757.8 1407.8,722.1 1435.6,686.4 1380.1,707.5 1362.3,710.7 1295.4,701.3 1237.9,685.1 1210.8,688.6 1150.0,667.7 1126.2,643.2 1105.0,654.1 1041.6,632.6 1000.7,613.3 956.9,593.6 923.8,592.0 872.3,591.1 823.7,582.1 787.7,593.7 741.8,613.3 787.7,648.7 837.7,645.4 872.3,655.5 914.6,667.7 956.9,692.2 971.6,677.1 1041.6,696.7 1077.9,722.1 1126.2,749.8 1201.6,770.5 1210.8,767.8 1220.7,776.5 1210.8,788.4 1186.1,792.4 1126.2,818.1 1053.5,776.5 1041.6,767.1 1024.2,776.5 956.9,829.4 889.6,776.5 910.4,752.0 942.8,722.1 872.3,675.4 854.2,679.4 787.7,677.2 758.0,686.7 703.0,686.7 648.0,722.1 618.4,735.7 601.9,722.1 533.8,678.3 520.3,667.7 533.8,662.4 607.8,620.1 563.4,667.7 618.4,703.1 673.4,667.7 629.0,620.1 625.4,613.3 618.4,610.6 616.3,611.9 533.8,579.3 490.8,613.3 449.1,647.6 397.9,613.3 412.7,582.3 430.4,558.9 364.5,514.0 364.5,504.5 449.1,504.5 533.8,504.5 618.4,504.5 703.0,504.5 787.7,504.5 872.3,504.5 956.9,504.5 1041.6,504.5 1126.2,504.5 1210.8,504.5 1295.4,504.5 1380.1,504.5 1464.7,504.5 1549.3,504.5 1634.0,504.5 1718.6,504.5 1803.2,504.5 1887.9,504.5 1972.5,504.5 1972.5,558.9ZM1972.5,1286.9 1914.9,1286.3 1887.9,1286.4 1827.0,1284.2 1803.2,1284.4 1739.2,1282.2 1718.6,1282.2 1646.3,1277.0 1634.0,1277.0 1621.3,1277.1 1549.3,1282.4 1529.3,1281.8 1464.7,1283.5 1400.9,1282.3 1380.1,1282.3 1359.3,1282.3 1295.4,1282.8 1273.9,1282.8 1210.8,1283.8 1149.5,1284.0 1126.2,1283.8 1102.3,1284.3 1041.6,1285.4 977.8,1282.4 956.9,1281.9 888.9,1279.7 872.3,1280.0 804.6,1279.9 787.7,1279.7 770.9,1279.8 703.0,1280.1 632.9,1278.4 618.4,1278.2 542.6,1274.7 533.8,1274.7 524.6,1274.9 449.1,1277.6 376.9,1277.0 364.5,1276.7 364.5,1269.1 364.5,1211.7 364.5,1193.2 420.3,1157.3 449.1,1123.3 478.0,1138.8 462.4,1157.3 533.8,1200.5 593.0,1173.6 618.4,1174.8 698.8,1211.7 702.2,1212.3 703.0,1212.1 703.7,1212.2 787.7,1213.1 870.3,1213.1 872.3,1213.0 951.2,1215.6 956.9,1214.8 1041.0,1212.1 1041.6,1212.0 1042.0,1212.0 1126.2,1218.3 1136.2,1218.5 1210.8,1222.8 1284.1,1211.7 1253.1,1184.5 1295.4,1195.8 1322.4,1211.7 1380.1,1216.5 1450.5,1221.4 1464.7,1220.5 1495.1,1211.7 1549.3,1161.5 1618.7,1211.7 1634.0,1219.5 1713.8,1215.0 1718.6,1213.5 1794.9,1217.4 1803.2,1216.4 1879.5,1217.4 1887.9,1216.5 1965.4,1216.5 1972.5,1216.3 1972.5,1269.1ZM364.5,918.3 442.1,889.8 376.7,939.7 411.0,969.6 421.9,994.1 449.1,1024.7 467.6,1048.5 449.1,1072.3 411.0,1078.4 364.5,1057.3 364.5,1048.5 364.5,994.1 364.5,939.7ZM364.5,817.3 390.9,813.9 449.1,796.0 522.6,830.9 449.1,884.4 443.8,881.9 364.5,856.4 364.5,830.9ZM364.5,656.2 383.9,667.7 449.1,689.6 504.5,722.1 449.1,756.1 412.4,752.9 364.5,748.7 364.5,722.1 364.5,667.7ZM1179.1,558.9 1172.7,583.4 1210.8,567.1 1221.4,558.9 1210.8,549.5ZM1669.2,558.9 1718.6,592.2 1787.7,558.9 1718.6,525.6ZM1313.6,613.3 1380.1,640.0 1450.6,658.6 1464.7,649.0 1492.5,613.3 1464.7,581.6 1426.1,588.5 1380.1,575.9ZM1590.8,667.7 1634.0,702.0 1693.0,667.7 1634.0,633.4ZM787.7,767.0 824.7,776.5 820.6,797.7 830.0,830.9 787.7,847.5 712.1,885.3 787.7,923.1 818.7,939.7 787.7,989.6 773.1,939.7 703.0,888.2 692.4,885.3 681.9,871.7 703.0,869.0 735.9,830.9 745.3,803.7 772.8,776.5ZM1041.6,825.5 1046.3,830.9 1041.6,832.5 999.2,830.9ZM1210.8,848.8 1270.8,885.3 1258.4,909.1 1246.5,939.7 1210.8,957.0 1163.2,970.3 1126.2,983.1 1074.5,939.7 1126.2,897.9 1166.9,911.5 1154.0,885.3ZM703.0,967.4 786.0,994.1 703.0,1023.0 635.6,994.1ZM618.4,1029.5 629.8,1048.5 618.4,1055.3 599.9,1048.5ZM956.9,1029.5 973.4,1048.5 956.9,1096.1 924.0,1048.5ZM1126.2,1041.7 1129.4,1048.5 1210.8,1087.0 1261.3,1102.9 1210.8,1147.3 1145.2,1102.9 1126.2,1062.1 1118.2,1048.5ZM703.0,1074.0 757.0,1102.9 703.0,1150.7 659.9,1102.9ZM956.9,1107.4 965.4,1108.3 1041.6,1148.9 1083.9,1130.1 1126.2,1143.7 1151.6,1157.3 1126.2,1163.1 1062.7,1198.1 1041.6,1206.3 1034.5,1207.2 956.9,1187.2 910.4,1157.3Z"/>
<path fill="#ffea00" d="M1972.5,545.3 1909.0,545.3 1887.9,545.3 1837.1,537.1 1803.2,545.3 1769.4,537.1 1718.6,512.7 1650.1,558.9 1718.6,605.1 1769.4,580.7 1803.2,571.0 1837.1,580.7 1887.9,572.5 1951.3,572.5 1919.6,613.3 1972.5,658.6 1972.5,667.7 1972.5,670.9 1967.8,670.7 1887.9,673.4 1875.8,675.5 1803.2,678.6 1739.8,722.1 1718.6,730.8 1662.2,758.4 1634.0,754.7 1570.5,722.1 1549.3,716.1 1481.6,667.7 1485.9,654.1 1517.6,613.3 1476.8,566.7 1549.3,558.9 1464.7,548.0 1430.9,558.9 1391.1,566.0 1380.1,563.0 1329.3,591.5 1295.4,608.8 1286.0,613.3 1253.1,640.5 1295.4,616.7 1303.5,618.5 1380.1,649.2 1450.0,667.7 1380.1,694.2 1346.2,700.3 1295.4,693.2 1215.5,670.7 1210.8,671.3 1200.2,667.7 1182.6,649.6 1143.1,613.3 1210.8,584.3 1243.7,558.9 1210.8,529.6 1138.3,551.1 1126.2,555.3 1116.8,558.9 1098.0,577.0 1083.9,613.3 1060.4,625.4 1041.6,619.0 1029.5,613.3 956.9,580.7 902.0,578.0 872.3,577.5 793.9,562.9 787.7,564.9 759.4,577.0 759.4,558.9 703.0,537.1 618.4,558.9 576.1,586.1 533.8,569.4 478.2,613.3 449.1,637.2 413.3,613.3 435.0,568.0 441.9,558.9 364.5,506.1 364.5,504.5 449.1,504.5 533.8,504.5 618.4,504.5 703.0,504.5 787.7,504.5 872.3,504.5 956.9,504.5 1041.6,504.5 1126.2,504.5 1210.8,504.5 1295.4,504.5 1380.1,504.5 1464.7,504.5 1549.3,504.5 1634.0,504.5 1718.6,504.5 1803.2,504.5 1887.9,504.5 1972.5,504.5ZM1972.5,1285.5 1912.7,1284.9 1887.9,1285.0 1824.6,1282.7 1803.2,1282.9 1736.7,1280.6 1718.6,1280.6 1643.5,1275.2 1634.0,1275.2 1624.2,1275.3 1549.3,1280.8 1531.8,1280.3 1464.7,1282.0 1398.4,1280.8 1380.1,1280.8 1361.7,1280.8 1295.4,1281.3 1276.3,1281.3 1210.8,1282.3 1147.2,1282.5 1126.2,1282.3 1104.7,1282.8 1041.6,1284.0 975.3,1280.8 956.9,1280.4 886.4,1278.1 872.3,1278.3 801.9,1278.2 787.7,1278.0 773.5,1278.1 703.0,1278.4 630.2,1276.6 618.4,1276.5 539.8,1272.9 533.8,1272.9 527.5,1273.1 449.1,1275.8 374.0,1275.2 364.5,1275.0 364.5,1269.1 364.5,1215.1 371.6,1211.7 449.1,1161.8 505.6,1193.6 533.8,1210.6 539.4,1208.1 618.4,1211.7 686.8,1222.7 703.0,1220.7 716.7,1221.0 787.7,1221.7 857.5,1221.7 872.3,1221.6 939.2,1223.7 956.9,1221.3 1031.0,1218.9 1041.6,1217.1 1050.4,1217.7 1126.2,1223.4 1143.7,1223.6 1210.8,1227.5 1289.8,1215.5 1295.4,1215.9 1302.0,1216.1 1380.1,1222.7 1442.3,1226.9 1464.7,1225.5 1512.5,1211.7 1549.3,1177.7 1596.4,1211.7 1634.0,1230.8 1695.5,1227.4 1718.6,1220.3 1785.5,1223.7 1803.2,1221.6 1871.9,1222.5 1887.9,1220.8 1959.1,1220.8 1972.5,1220.4 1972.5,1269.1ZM364.5,681.3 379.9,677.6 449.1,700.8 485.4,722.1 449.1,744.4 391.2,739.3 364.5,736.9 364.5,722.1ZM1575.4,667.7 1634.0,714.3 1714.2,667.7 1634.0,621.1ZM1002.5,697.0 1041.6,707.9 1061.9,722.1 1126.2,759.0 1189.7,776.5 1126.2,803.7 1078.6,776.5 1041.6,747.2 987.7,776.5 956.9,800.7 926.1,776.5 956.9,740.2 978.1,722.1ZM1464.7,681.3 1537.3,722.1 1464.7,762.9 1433.0,722.1ZM449.1,807.2 498.9,830.9 449.1,867.2 372.2,830.9ZM1210.8,862.4 1248.4,885.3 1224.9,930.6 1221.4,939.7 1210.8,944.8 1196.7,948.8 1126.2,973.2 1086.4,939.7 1126.2,907.5 1197.8,931.3 1175.2,885.3ZM1549.3,860.2 1600.1,885.3 1549.3,912.5 1492.9,885.3ZM703.0,977.4 755.1,994.1 703.0,1012.2 660.7,994.1ZM703.0,1084.8 736.9,1102.9 703.0,1132.9 675.9,1102.9ZM1174.5,1079.6 1210.8,1096.7 1230.3,1102.9 1210.8,1120.1 1185.4,1102.9Z"/>
<path fill="#ffd400" d="M597.2,504.5 544.3,552.1 538.0,558.9 535.9,560.3 533.8,559.4 465.7,613.3 449.1,626.9 428.8,613.3 449.1,570.8 523.2,558.9 449.1,545.3 399.8,504.5 449.1,504.5 533.8,504.5ZM1453.2,504.5 1380.1,536.8 1351.1,558.9 1295.4,587.2 1241.4,613.3 1210.8,638.6 1183.3,613.3 1210.8,601.5 1266.1,558.9 1210.8,509.7 1195.7,514.2 1126.2,538.0 1072.1,558.9 1041.6,588.4 1002.8,588.4 956.9,567.7 880.3,564.0 872.3,563.9 845.4,558.9 830.0,531.7 812.3,504.5 872.3,504.5 956.9,504.5 1041.6,504.5 1126.2,504.5 1210.8,504.5 1295.4,504.5 1380.1,504.5ZM1596.9,504.5 1549.3,522.0 1485.9,504.5 1549.3,504.5ZM1838.5,504.5 1803.2,513.0 1768.0,504.5 1803.2,504.5ZM1972.5,1284.1 1910.4,1283.5 1887.9,1283.5 1822.3,1281.2 1803.2,1281.4 1734.2,1279.0 1718.6,1279.0 1640.7,1273.4 1634.0,1273.4 1627.1,1273.5 1549.3,1279.1 1534.2,1278.7 1464.7,1280.5 1396.0,1279.2 1380.1,1279.2 1364.1,1279.2 1295.4,1279.8 1278.7,1279.8 1210.8,1280.8 1144.9,1281.0 1126.2,1280.9 1107.0,1281.3 1041.6,1282.5 972.8,1279.2 956.9,1278.8 883.9,1276.5 872.3,1276.7 799.3,1276.5 787.7,1276.4 776.1,1276.5 703.0,1276.8 627.6,1274.9 618.4,1274.9 536.9,1271.1 533.8,1271.1 530.5,1271.2 449.1,1274.1 371.2,1273.4 364.5,1273.2 364.5,1269.1 364.5,1231.1 405.1,1211.7 449.1,1183.4 499.5,1211.7 533.8,1237.4 578.2,1239.0 618.4,1224.7 671.3,1233.2 703.0,1229.2 729.6,1229.8 787.7,1230.4 844.8,1230.4 872.3,1230.1 927.2,1231.8 956.9,1227.8 1020.9,1225.7 1041.6,1222.3 1058.7,1223.4 1126.2,1228.4 1151.3,1228.8 1210.8,1232.2 1280.9,1221.6 1295.4,1222.5 1312.3,1223.1 1380.1,1228.8 1434.1,1232.5 1464.7,1230.6 1530.0,1211.7 1549.3,1193.8 1574.0,1211.7 1634.0,1242.2 1677.3,1239.7 1718.6,1227.1 1776.2,1230.1 1803.2,1226.9 1864.3,1227.7 1887.9,1225.1 1952.7,1225.1 1972.5,1224.5 1972.5,1269.1ZM364.5,713.6 416.4,701.1 449.1,712.0 466.3,722.1 449.1,732.6 370.1,725.7 364.5,725.2 364.5,722.1ZM1534.2,603.6 1549.3,602.0 1602.2,579.3 1584.6,613.3 1604.4,632.3 1559.9,667.7 1604.4,703.1 1549.3,687.3 1521.8,667.7 1536.1,621.8 1542.7,613.3ZM1803.2,599.7 1850.8,613.3 1803.2,643.9 1755.6,613.3ZM1295.4,632.9 1341.8,643.1 1380.1,658.5 1415.0,667.7 1380.1,681.0 1330.1,690.0 1295.4,685.1 1233.5,667.7ZM1033.4,716.9 1041.6,719.1 1045.8,722.1 1126.2,768.2 1156.2,776.5 1126.2,789.3 1103.7,776.5 1041.6,727.3 988.7,756.1 1028.3,722.1ZM1464.7,713.6 1479.8,722.1 1464.7,730.6 1458.1,722.1ZM449.1,818.5 475.3,830.9 449.1,849.9 408.7,830.9ZM1210.8,876.0 1226.1,885.3 1210.8,914.8 1196.3,885.3ZM1549.3,880.1 1559.9,885.3 1549.3,891.0 1537.6,885.3ZM1126.2,917.0 1194.2,939.7 1126.2,963.2 1098.2,939.7ZM703.0,987.3 724.2,994.1 703.0,1001.5 685.8,994.1ZM703.0,1095.5 716.8,1102.9 703.0,1115.1 692.0,1102.9Z"/>
<path fill="#ffbf00" d="M539.8,504.5 533.8,509.9 457.6,509.9 449.1,508.4 444.4,504.5 449.1,504.5 533.8,504.5ZM1173.8,504.5 1126.2,520.8 1062.7,545.3 1050.0,504.5 1126.2,504.5ZM1380.1,504.5 1308.8,558.9 1295.4,565.7 1253.1,586.1 1288.4,558.9 1270.1,542.6 1232.0,504.5 1295.4,504.5ZM1972.5,1282.7 1908.2,1282.1 1887.9,1282.1 1819.9,1279.7 1803.2,1279.8 1731.6,1277.4 1718.6,1277.4 1637.8,1271.6 1634.0,1271.6 1630.0,1271.6 1549.3,1277.5 1536.7,1277.2 1464.7,1279.0 1393.6,1277.7 1380.1,1277.7 1366.6,1277.7 1295.4,1278.2 1281.1,1278.2 1210.8,1279.3 1142.6,1279.5 1126.2,1279.4 1109.4,1279.8 1041.6,1281.0 970.3,1277.6 956.9,1277.3 881.3,1274.9 872.3,1275.0 796.7,1274.9 787.7,1274.8 778.6,1274.8 703.0,1275.1 624.9,1273.2 618.4,1273.2 534.1,1269.3 533.8,1269.3 533.5,1269.3 449.1,1272.3 368.4,1271.6 364.5,1271.5 364.5,1269.1 364.5,1247.2 438.6,1211.7 449.1,1204.9 461.2,1211.7 533.8,1266.1 538.0,1266.2 618.4,1237.7 655.8,1243.7 703.0,1237.7 742.6,1238.5 787.7,1239.0 832.0,1239.0 872.3,1238.6 915.2,1240.0 956.9,1234.2 1010.9,1232.5 1041.6,1227.4 1067.1,1229.0 1126.2,1233.5 1158.9,1233.9 1210.8,1236.9 1271.9,1227.6 1295.4,1229.2 1322.6,1230.1 1380.1,1234.9 1425.8,1238.1 1464.7,1235.6 1547.5,1211.7 1549.3,1210.0 1551.7,1211.7 1634.0,1253.6 1659.0,1252.1 1718.6,1233.9 1766.8,1236.4 1803.2,1232.1 1856.7,1232.8 1887.9,1229.5 1946.3,1229.5 1972.5,1228.7 1972.5,1269.1ZM449.1,603.1 470.3,599.7 453.1,613.3 449.1,616.6 444.2,613.3ZM1295.4,649.0 1380.1,667.7 1314.1,679.7 1295.4,677.1 1262.2,667.7ZM449.1,829.7 451.6,830.9 449.1,832.7 445.3,830.9ZM1126.2,926.6 1165.5,939.7 1126.2,953.3 1110.0,939.7Z"/>
<path fill="#ffaa00" d="M1341.8,504.5 1295.4,539.3 1260.7,504.5 1295.4,504.5ZM1972.5,1281.3 1906.0,1280.6 1887.9,1280.7 1817.5,1278.2 1803.2,1278.3 1729.1,1275.8 1718.6,1275.8 1635.0,1269.8 1634.0,1269.8 1632.9,1269.8 1549.3,1275.9 1539.2,1275.6 1464.7,1277.5 1391.2,1276.2 1380.1,1276.2 1369.0,1276.2 1295.4,1276.7 1283.5,1276.7 1210.8,1277.8 1140.2,1278.1 1126.2,1278.0 1111.8,1278.3 1041.6,1279.6 967.8,1276.0 956.9,1275.8 878.8,1273.3 872.3,1273.4 794.1,1273.2 787.7,1273.1 781.2,1273.2 703.0,1273.5 622.2,1271.5 618.4,1271.5 566.5,1269.1 618.4,1250.6 640.4,1254.2 703.0,1246.2 755.6,1247.3 787.7,1247.7 819.2,1247.7 872.3,1247.1 903.2,1248.1 956.9,1240.7 1000.8,1239.3 1041.6,1232.5 1075.5,1234.7 1126.2,1238.5 1166.5,1239.0 1210.8,1241.6 1263.0,1233.7 1295.4,1235.8 1332.9,1237.1 1380.1,1241.0 1417.6,1243.6 1464.7,1240.7 1537.7,1219.6 1549.3,1221.9 1609.3,1252.4 1634.0,1264.9 1640.7,1264.5 1718.6,1240.8 1757.5,1242.7 1803.2,1237.4 1849.1,1238.0 1887.9,1233.8 1939.9,1233.8 1972.5,1232.8 1972.5,1269.1ZM364.5,1263.2 394.1,1249.0 449.1,1238.3 488.8,1269.1 449.1,1270.5 365.5,1269.8 364.5,1269.7 364.5,1269.1ZM1295.4,665.2 1307.0,667.7 1298.0,669.3 1295.4,669.0 1290.9,667.7ZM1126.2,936.2 1136.8,939.7 1126.2,943.4 1121.8,939.7Z"/>
<path fill="#ff9500" d="M1303.5,504.5 1295.4,510.5 1289.4,504.5 1295.4,504.5ZM1972.5,1279.9 1903.8,1279.2 1887.9,1279.3 1815.2,1276.7 1803.2,1276.8 1726.6,1274.2 1718.6,1274.2 1648.1,1269.1 1718.6,1247.6 1748.1,1249.1 1803.2,1242.6 1841.6,1243.1 1887.9,1238.1 1933.5,1238.1 1972.5,1236.9 1972.5,1269.1ZM618.4,1263.6 624.9,1264.7 703.0,1254.8 768.5,1256.1 787.7,1256.3 806.5,1256.3 872.3,1255.6 891.2,1256.2 956.9,1247.2 990.8,1246.1 1041.6,1237.7 1083.9,1240.4 1126.2,1243.6 1174.1,1244.2 1210.8,1246.3 1254.1,1239.8 1295.4,1242.5 1343.2,1244.1 1380.1,1247.2 1409.4,1249.2 1464.7,1245.7 1524.8,1228.4 1549.3,1233.2 1619.9,1269.1 1549.3,1274.2 1541.6,1274.0 1464.7,1276.0 1388.7,1274.6 1380.1,1274.6 1371.4,1274.6 1295.4,1275.2 1285.9,1275.2 1210.8,1276.3 1137.9,1276.6 1126.2,1276.5 1114.2,1276.8 1041.6,1278.1 965.3,1274.5 956.9,1274.2 876.3,1271.6 872.3,1271.7 791.5,1271.5 787.7,1271.5 783.8,1271.5 703.0,1271.9 619.5,1269.8 618.4,1269.8 603.0,1269.1Z"/>
<path fill="#ff8000" d="M1972.5,1278.5 1901.5,1277.8 1887.9,1277.9 1812.8,1275.2 1803.2,1275.3 1724.1,1272.6 1718.6,1272.6 1670.4,1269.1 1718.6,1254.4 1738.8,1255.4 1803.2,1247.9 1834.0,1248.3 1887.9,1242.4 1927.2,1242.4 1972.5,1241.1 1972.5,1269.1ZM703.0,1263.3 781.5,1264.9 787.7,1265.0 793.7,1265.0 872.3,1264.2 879.2,1264.4 956.9,1253.7 980.7,1253.0 1041.6,1242.8 1092.2,1246.1 1126.2,1248.6 1181.7,1249.3 1210.8,1251.0 1245.1,1245.8 1295.4,1249.1 1353.5,1251.1 1380.1,1253.3 1401.2,1254.8 1464.7,1250.8 1511.8,1237.2 1549.3,1244.6 1597.5,1269.1 1549.3,1272.6 1544.1,1272.5 1464.7,1274.5 1386.3,1273.1 1380.1,1273.1 1373.8,1273.1 1295.4,1273.7 1288.3,1273.7 1210.8,1274.8 1135.6,1275.1 1126.2,1275.0 1116.5,1275.2 1041.6,1276.6 962.8,1272.9 956.9,1272.7 873.8,1270.0 872.3,1270.1 788.9,1269.9 787.7,1269.9 786.4,1269.9 703.0,1270.2 657.2,1269.1Z"/>
<path fill="#ff6a00" d="M1972.5,1277.2 1899.3,1276.4 1887.9,1276.4 1810.5,1273.7 1803.2,1273.8 1721.5,1271.0 1718.6,1271.0 1692.7,1269.1 1718.6,1261.2 1729.4,1261.8 1803.2,1253.1 1826.4,1253.4 1887.9,1246.8 1920.8,1246.8 1972.5,1245.2 1972.5,1269.1ZM956.9,1260.2 970.7,1259.8 1041.6,1248.0 1100.6,1251.8 1126.2,1253.7 1189.3,1254.5 1210.8,1255.7 1236.2,1251.9 1295.4,1255.8 1363.8,1258.1 1380.1,1259.4 1393.0,1260.3 1464.7,1255.8 1498.8,1246.0 1549.3,1255.9 1575.2,1269.1 1549.3,1271.0 1546.5,1270.9 1464.7,1273.0 1383.9,1271.5 1380.1,1271.5 1376.3,1271.5 1295.4,1272.1 1290.7,1272.1 1210.8,1273.3 1133.3,1273.6 1126.2,1273.6 1118.9,1273.7 1041.6,1275.1 960.3,1271.3 956.9,1271.2 892.2,1269.1Z"/>
<path fill="#ff5500" d="M1972.5,1275.8 1897.1,1275.0 1887.9,1275.0 1808.1,1272.2 1803.2,1272.2 1719.0,1269.4 1718.6,1269.4 1715.1,1269.1 1718.6,1268.0 1720.1,1268.1 1803.2,1258.3 1818.8,1258.5 1887.9,1251.1 1914.4,1251.1 1972.5,1249.3 1972.5,1269.1ZM956.9,1266.7 960.6,1266.6 1041.6,1253.1 1109.0,1257.4 1126.2,1258.7 1196.8,1259.6 1210.8,1260.4 1227.3,1257.9 1295.4,1262.4 1374.1,1265.1 1380.1,1265.6 1384.8,1265.9 1464.7,1260.9 1485.9,1254.8 1549.3,1267.3 1552.9,1269.1 1549.3,1269.4 1549.0,1269.3 1464.7,1271.5 1381.5,1270.0 1380.1,1270.0 1378.7,1270.0 1295.4,1270.6 1293.1,1270.6 1210.8,1271.8 1131.0,1272.1 1126.2,1272.1 1121.3,1272.2 1041.6,1273.7 957.8,1269.7 956.9,1269.7 939.5,1269.1Z"/>
<path fill="#ff4000" d="M1972.5,1274.4 1894.9,1273.6 1887.9,1273.6 1805.7,1270.7 1803.2,1270.7 1756.2,1269.1 1803.2,1263.6 1811.2,1263.7 1887.9,1255.4 1908.0,1255.4 1972.5,1253.4 1972.5,1269.1ZM1041.6,1258.3 1117.4,1263.1 1126.2,1263.8 1204.4,1264.8 1210.8,1265.1 1218.3,1264.0 1295.4,1269.1 1210.8,1270.4 1128.6,1270.7 1126.2,1270.6 1123.7,1270.7 1041.6,1272.2 976.5,1269.1ZM1464.7,1265.9 1472.9,1263.5 1501.0,1269.1 1464.7,1270.0 1413.9,1269.1Z"/>
<path fill="#ff2a00" d="M1972.5,1273.0 1892.7,1272.2 1887.9,1272.2 1803.4,1269.2 1803.2,1269.2 1800.9,1269.1 1803.2,1268.8 1803.6,1268.8 1887.9,1259.8 1901.6,1259.8 1972.5,1257.6 1972.5,1269.1ZM1041.6,1263.4 1125.7,1268.8 1126.2,1268.8 1147.3,1269.1 1126.3,1269.2 1126.2,1269.2 1126.1,1269.2 1041.6,1270.7 1007.4,1269.1Z"/>
<path fill="#ff1500" d="M1972.5,1271.6 1890.4,1270.7 1887.9,1270.7 1841.3,1269.1 1887.9,1264.1 1895.3,1264.1 1972.5,1261.7 1972.5,1269.1ZM1041.6,1268.6 1050.0,1269.1 1041.6,1269.3 1038.3,1269.1Z"/>
<path fill="#ff0000" d="M1972.5,1270.2 1888.2,1269.3 1887.9,1269.3 1881.5,1269.1 1887.9,1268.4 1888.9,1268.4 1972.5,1265.8 1972.5,1269.1Z"/>
</g></g>
<g stroke="#000" stroke-width="5.5" fill="none" stroke-linecap="butt">
<rect x="364.5" y="508.0" width="1608.0" height="1520.0"/>
<path d="M334,508.0H364.5M334,751.3H364.5M334,994.7H364.5M334,1238.0H364.5M334,1481.3H364.5M334,1724.7H364.5M334,1968.0H364.5M349,629.7H364.5M349,873.0H364.5M349,1116.3H364.5M349,1359.7H364.5M349,1603.0H364.5M349,1846.3H364.5M364.5,2028.0V2058.5M766.5,2028.0V2058.5M1168.5,2028.0V2058.5M1570.5,2028.0V2058.5M1972.5,2028.0V2058.5M565.5,2028.0V2043.5M967.5,2028.0V2043.5M1369.5,2028.0V2043.5M1771.5,2028.0V2043.5"/>
</g>
<g font-size="81" fill="#000">
<text x="314" y="531.5" text-anchor="end">200</text>
<text x="314" y="774.8" text-anchor="end">800</text>
<text x="314" y="1018.2" text-anchor="end">400</text>
<text x="314" y="1261.5" text-anchor="end">0</text>
<text x="314" y="1504.8" text-anchor="end">−400</text>
<text x="314" y="1748.2" text-anchor="end">−800</text>
<text x="314" y="1991.5" text-anchor="end">−1200</text>
<text x="364.5" y="2141.5" text-anchor="middle">0</text>
<text x="766.5" y="2141.5" text-anchor="middle">500</text>
<text x="1168.5" y="2141.5" text-anchor="middle">1000</text>
<text x="1570.5" y="2141.5" text-anchor="middle">1500</text>
<text x="1972.5" y="2141.5" text-anchor="middle">2000</text>
</g>
<text x="1165.4" y="2262.3" font-size="102.3" text-anchor="middle">Distance, μm</text>
<text transform="translate(105.3,1244.9) rotate(-90)" font-size="101.2" text-anchor="middle">Distance, μm</text>
<text x="379" y="600.5" font-size="100">(b)</text>
<g shape-rendering="crispEdges">
<rect x="2051.6" y="503.40" width="115.8" height="31.08" fill="#ee0000"/>
<rect x="2051.6" y="533.88" width="115.8" height="31.08" fill="#ff0000"/>
<rect x="2051.6" y="564.36" width="115.8" height="31.08" fill="#ff1500"/>
<rect x="2051.6" y="594.84" width="115.8" height="31.08" fill="#ff2a00"/>
<rect x="2051.6" y="625.32" width="115.8" height="31.08" fill="#ff4000"/>
<rect x="2051.6" y="655.80" width="115.8" height="31.08" fill="#ff5500"/>
<rect x="2051.6" y="686.28" width="115.8" height="31.08" fill="#ff6a00"/>
<rect x="2051.6" y="716.76" width="115.8" height="31.08" fill="#ff8000"/>
<rect x="2051.6" y="747.24" width="115.8" height="31.08" fill="#ff9500"/>
<rect x="2051.6" y="777.72" width="115.8" height="31.08" fill="#ffaa00"/>
<rect x="2051.6" y="808.20" width="115.8" height="31.08" fill="#ffbf00"/>
<rect x="2051.6" y="838.68" width="115.8" height="31.08" fill="#ffd400"/>
<rect x="2051.6" y="869.16" width="115.8" height="31.08" fill="#ffea00"/>
<rect x="2051.6" y="899.64" width="115.8" height="31.08" fill="#ffff00"/>
<rect x="2051.6" y="930.12" width="115.8" height="31.08" fill="#e0ff00"/>
<rect x="2051.6" y="960.60" width="115.8" height="31.08" fill="#c0ff00"/>
<rect x="2051.6" y="991.08" width="115.8" height="31.08" fill="#98ff00"/>
<rect x="2051.6" y="1021.56" width="115.8" height="31.08" fill="#60ff00"/>
<rect x="2051.6" y="1052.04" width="115.8" height="31.08" fill="#00ff00"/>
<rect x="2051.6" y="1082.52" width="115.8" height="31.08" fill="#00ff00"/>
<rect x="2051.6" y="1113.00" width="115.8" height="31.08" fill="#00ff00"/>
<rect x="2051.6" y="1143.48" width="115.8" height="31.08" fill="#00ff00"/>
<rect x="2051.6" y="1173.96" width="115.8" height="31.08" fill="#00ff00"/>
<rect x="2051.6" y="1204.44" width="115.8" height="31.08" fill="#00ff00"/>
<rect x="2051.6" y="1234.92" width="115.8" height="31.08" fill="#00ff00"/>
<rect x="2051.6" y="1265.40" width="115.8" height="31.08" fill="#00ff00"/>
<rect x="2051.6" y="1295.88" width="115.8" height="31.08" fill="#00ff00"/>
<rect x="2051.6" y="1326.36" width="115.8" height="31.08" fill="#00ff1a"/>
<rect x="2051.6" y="1356.84" width="115.8" height="31.08" fill="#00ff33"/>
<rect x="2051.6" y="1387.32" width="115.8" height="31.08" fill="#00ff4c"/>
<rect x="2051.6" y="1417.80" width="115.8" height="31.08" fill="#00ff66"/>
<rect x="2051.6" y="1448.28" width="115.8" height="31.08" fill="#00ff80"/>
<rect x="2051.6" y="1478.76" width="115.8" height="31.08" fill="#00ff99"/>
<rect x="2051.6" y="1509.24" width="115.8" height="31.08" fill="#00ffb2"/>
<rect x="2051.6" y="1539.72" width="115.8" height="31.08" fill="#00ffcc"/>
<rect x="2051.6" y="1570.20" width="115.8" height="31.08" fill="#00ffe6"/>
<rect x="2051.6" y="1600.68" width="115.8" height="31.08" fill="#00ffff"/>
<rect x="2051.6" y="1631.16" width="115.8" height="31.08" fill="#00eaff"/>
<rect x="2051.6" y="1661.64" width="115.8" height="31.08" fill="#00d4ff"/>
<rect x="2051.6" y="1692.12" width="115.8" height="31.08" fill="#00bfff"/>
<rect x="2051.6" y="1722.60" width="115.8" height="31.08" fill="#00aaff"/>
<rect x="2051.6" y="1753.08" width="115.8" height="31.08" fill="#0095ff"/>
<rect x="2051.6" y="1783.56" width="115.8" height="31.08" fill="#0080ff"/>
<rect x="2051.6" y="1814.04" width="115.8" height="31.08" fill="#006aff"/>
<rect x="2051.6" y="1844.52" width="115.8" height="31.08" fill="#0055ff"/>
<rect x="2051.6" y="1875.00" width="115.8" height="31.08" fill="#0040ff"/>
<rect x="2051.6" y="1905.48" width="115.8" height="31.08" fill="#002aff"/>
<rect x="2051.6" y="1935.96" width="115.8" height="31.08" fill="#0015ff"/>
<rect x="2051.6" y="1966.44" width="115.8" height="31.08" fill="#0000ff"/>
<rect x="2051.6" y="1996.92" width="115.8" height="31.08" fill="#0000a0"/>
</g>
<rect x="2053.1" y="504.9" width="112.8" height="1522.5" fill="none" stroke="#000" stroke-width="3"/>
<g font-size="80" fill="#000">
<text transform="translate(2219.5,560.5) scale(0.935,1)">254</text>
<text transform="translate(2219.5,743.4) scale(0.935,1)">226</text>
<text transform="translate(2219.5,926.2) scale(0.935,1)">197</text>
<text transform="translate(2219.5,1109.1) scale(0.935,1)">169</text>
<text transform="translate(2219.5,1292.0) scale(0.935,1)">140</text>
<text transform="translate(2219.5,1474.9) scale(0.935,1)">112</text>
<text transform="translate(2219.5,1657.8) scale(0.935,1)">83</text>
<text transform="translate(2219.5,1840.6) scale(0.935,1)">55</text>
<text transform="translate(2219.5,2023.5) scale(0.935,1)">26</text>
</g>
<path d="M2166.4,533.9H2195M2166.4,716.8H2195M2166.4,899.6H2195M2166.4,1082.5H2195M2166.4,1265.4H2195M2166.4,1448.3H2195M2166.4,1631.2H2195M2166.4,1814.0H2195M2166.4,1996.9H2195" stroke="#000" stroke-width="3.2" fill="none"/>
<text transform="translate(2056.5,449.5) scale(0.915,1)" font-size="80">HV</text>
</svg>
</body></html>
